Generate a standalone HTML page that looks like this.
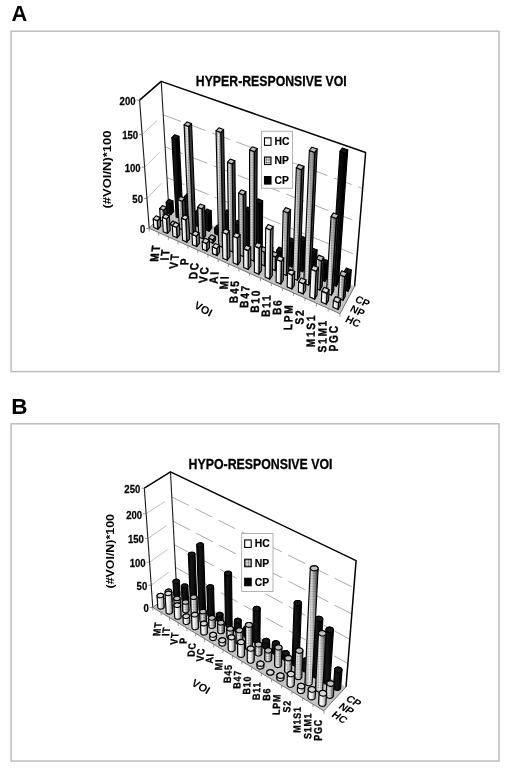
<!DOCTYPE html><html><head><meta charset="utf-8"><style>
*{margin:0;padding:0}
html,body{width:508px;height:771px;background:#fff;overflow:hidden}
svg{position:absolute;left:0;top:0}
text{font-family:"Liberation Sans",Arial,sans-serif}
.gl{stroke:#b8b8b8;stroke-width:0.9}
.gd{stroke:#a0a0a0;stroke-width:0.9;stroke-dasharray:19 7}
.ax{fill:none;stroke:#000;stroke-width:1.5;stroke-linejoin:round}
.av{fill:none;stroke:#1a1a1a;stroke-width:1.1}
.fx{fill:none;stroke:#555;stroke-width:0.8}
.tk{stroke:#666;stroke-width:0.7}
.yl{font-size:11px;font-weight:bold;text-anchor:end;stroke:#000;stroke-width:0.25px}
.cl{font-size:12px;font-weight:bold;text-anchor:end}
.sl{font-size:10px;font-weight:bold;text-anchor:middle;dominant-baseline:central}
.lg{font-size:11px;font-weight:bold;stroke:#000;stroke-width:0.2px}
.tt{font-size:15px;font-weight:bold;stroke:#000;stroke-width:0.3px}
.hc .f{fill:url(#ghc)}.hc .r{fill:#7a7a7a}.hc .t{fill:#d8d8d8}
.np .f{fill:url(#gnp)}.np .o{fill:url(#npat);stroke:none!important}.np .r{fill:#3a3a3a}.np .t{fill:#c0c0c0}
.cp .f{fill:url(#gcp)}.cp .r{fill:#000}.cp .t{fill:#1a1a1a}
.hc.c .f{fill:url(#ghcC)}.np.c .f{fill:url(#gnpC)}.hc.c .t{fill:#d8d8d8}.np.c .t{fill:#c0c0c0}
.hc polygon,.np polygon,.cp polygon{stroke:#000;stroke-width:1.15;stroke-linejoin:round}
</style></head><body><svg width="508" height="771" viewBox="0 0 508 771"><defs>
<linearGradient id="ghc" x1="0" y1="0" x2="1" y2="0"><stop offset="0" stop-color="#e4e4e4"/><stop offset="0.3" stop-color="#fff"/><stop offset="0.6" stop-color="#e8e8e8"/><stop offset="1" stop-color="#a4a4a4"/></linearGradient>
<linearGradient id="gnp" x1="0" y1="0" x2="1" y2="0"><stop offset="0" stop-color="#909090"/><stop offset="0.3" stop-color="#f2f2f2"/><stop offset="0.6" stop-color="#b8b8b8"/><stop offset="1" stop-color="#707070"/></linearGradient>
<linearGradient id="gcp" x1="0" y1="0" x2="1" y2="0"><stop offset="0" stop-color="#000"/><stop offset="0.35" stop-color="#161616"/><stop offset="1" stop-color="#000"/></linearGradient>
<pattern id="npat" patternUnits="userSpaceOnUse" width="2.6" height="2.6"><circle cx="1.3" cy="1.3" r="0.8" fill="#333" fill-opacity="0.42"/></pattern>
<pattern id="lpat" patternUnits="userSpaceOnUse" width="2.6" height="2.6"><rect width="2.6" height="2.6" fill="#ddd"/><circle cx="1.3" cy="1.3" r="0.8" fill="#555"/></pattern>
<linearGradient id="ghcC" x1="0" y1="0" x2="1" y2="0"><stop offset="0" stop-color="#8a8a8a"/><stop offset="0.15" stop-color="#e6e6e6"/><stop offset="0.35" stop-color="#fff"/><stop offset="0.62" stop-color="#d2d2d2"/><stop offset="0.85" stop-color="#9a9a9a"/><stop offset="1" stop-color="#6a6a6a"/></linearGradient>
<linearGradient id="gnpC" x1="0" y1="0" x2="1" y2="0"><stop offset="0" stop-color="#383838"/><stop offset="0.12" stop-color="#b0b0b0"/><stop offset="0.3" stop-color="#f8f8f8"/><stop offset="0.5" stop-color="#d8d8d8"/><stop offset="0.7" stop-color="#a0a0a0"/><stop offset="0.88" stop-color="#5a5a5a"/><stop offset="1" stop-color="#2a2a2a"/></linearGradient>
</defs>
<text transform="translate(11.6 21.2) scale(0.97 1)" style="font-size:22.5px;font-weight:bold">A</text>
<text transform="translate(11.3 413.6)" style="font-size:22.5px;font-weight:bold">B</text>
<rect x="11.1" y="31.2" width="487.9" height="340.4" fill="none" stroke="#bcbcbc" stroke-width="1.5"/>
<rect x="11.1" y="423.8" width="487.9" height="337.2" fill="none" stroke="#bcbcbc" stroke-width="1.5"/>
<polygon points="149.22,228.35 139.57,100.10 161.21,81.34 168.69,206.83" fill="#fff" stroke="none"/>
<polygon points="168.69,206.83 161.21,81.34 365.62,152.56 354.57,286.40" fill="#fff" stroke="none"/>
<polygon points="149.22,228.35 340.00,313.75 354.57,286.40 168.69,206.83" fill="#c4c4c4" stroke="none"/>
<line x1="146.97" y1="198.44" x2="161.49" y2="183.22" class="gl"/>
<line x1="166.95" y1="177.50" x2="357.13" y2="255.38" class="gd"/>
<line x1="144.62" y1="167.17" x2="159.53" y2="152.41" class="gl"/>
<line x1="165.12" y1="146.87" x2="359.82" y2="222.82" class="gd"/>
<line x1="142.16" y1="134.42" x2="157.47" y2="120.18" class="gl"/>
<line x1="163.21" y1="114.85" x2="362.65" y2="188.59" class="gd"/>
<polyline points="139.57,100.10 161.21,81.34 365.62,152.56 354.57,286.40" class="ax"/>
<polyline points="161.21,81.34 168.69,206.83" class="av"/>
<polyline points="139.57,100.10 149.22,228.35" class="av"/>
<polyline points="168.69,206.83 149.22,228.35 340.00,313.75 354.57,286.40" class="fx"/>
<line x1="146.22" y1="228.35" x2="149.22" y2="228.35" class="tk"/>
<text x="0" y="0" class="yl" transform="translate(145.22 233.35) scale(0.87 1) translate(0 0)">0</text>
<line x1="143.97" y1="198.44" x2="146.97" y2="198.44" class="tk"/>
<text x="0" y="0" class="yl" transform="translate(142.97 203.44) scale(0.87 1) translate(0 0)">50</text>
<line x1="141.62" y1="167.17" x2="144.62" y2="167.17" class="tk"/>
<text x="0" y="0" class="yl" transform="translate(140.62 172.17) scale(0.87 1) translate(0 0)">100</text>
<line x1="139.16" y1="134.42" x2="142.16" y2="134.42" class="tk"/>
<text x="0" y="0" class="yl" transform="translate(138.16 139.42) scale(0.87 1) translate(0 0)">150</text>
<line x1="136.57" y1="100.10" x2="139.57" y2="100.10" class="tk"/>
<text x="0" y="0" class="yl" transform="translate(135.57 105.10) scale(0.87 1) translate(0 0)">200</text>
<line x1="149.22" y1="228.35" x2="149.22" y2="231.35" class="tk"/>
<line x1="158.70" y1="232.59" x2="158.70" y2="235.59" class="tk"/>
<line x1="168.29" y1="236.89" x2="168.29" y2="239.89" class="tk"/>
<line x1="178.01" y1="241.24" x2="178.01" y2="244.24" class="tk"/>
<line x1="187.85" y1="245.64" x2="187.85" y2="248.64" class="tk"/>
<line x1="197.82" y1="250.10" x2="197.82" y2="253.10" class="tk"/>
<line x1="207.91" y1="254.62" x2="207.91" y2="257.62" class="tk"/>
<line x1="218.14" y1="259.20" x2="218.14" y2="262.20" class="tk"/>
<line x1="228.49" y1="263.84" x2="228.49" y2="266.84" class="tk"/>
<line x1="238.99" y1="268.53" x2="238.99" y2="271.53" class="tk"/>
<line x1="249.62" y1="273.29" x2="249.62" y2="276.29" class="tk"/>
<line x1="260.39" y1="278.12" x2="260.39" y2="281.12" class="tk"/>
<line x1="271.31" y1="283.00" x2="271.31" y2="286.00" class="tk"/>
<line x1="282.37" y1="287.96" x2="282.37" y2="290.96" class="tk"/>
<line x1="293.59" y1="292.98" x2="293.59" y2="295.98" class="tk"/>
<line x1="304.95" y1="298.06" x2="304.95" y2="301.06" class="tk"/>
<line x1="316.47" y1="303.22" x2="316.47" y2="306.22" class="tk"/>
<line x1="328.16" y1="308.45" x2="328.16" y2="311.45" class="tk"/>
<line x1="340.00" y1="313.75" x2="340.00" y2="316.75" class="tk"/>
<g class="cp"><polygon class="r" points="170.83,214.71 173.53,211.67 172.93,200.92 170.20,203.93"/><polygon class="f" points="166.82,212.97 170.83,214.71 170.20,203.93 166.16,202.21"/><polygon class="t" points="166.16,202.21 170.20,203.93 172.93,200.92 168.90,199.21"/></g>
<g class="cp"><polygon class="r" points="180.23,218.77 182.90,215.69 178.98,136.33 176.12,139.17"/><polygon class="f" points="176.17,217.02 180.23,218.77 176.12,139.17 171.84,137.54"/><polygon class="t" points="171.84,137.54 176.12,139.17 178.98,136.33 174.71,134.71"/></g>
<g class="cp"><polygon class="r" points="189.74,222.89 192.39,219.77 191.35,195.26 188.65,198.31"/><polygon class="f" points="185.64,221.11 189.74,222.89 188.65,198.31 184.47,196.57"/><polygon class="t" points="184.47,196.57 188.65,198.31 191.35,195.26 187.18,193.53"/></g>
<g class="cp"><polygon class="r" points="199.38,227.06 201.99,223.90 201.54,211.27 198.90,214.40"/><polygon class="f" points="195.22,225.26 199.38,227.06 198.90,214.40 194.71,212.61"/><polygon class="t" points="194.71,212.61 198.90,214.40 201.54,211.27 197.36,209.51"/></g>
<g class="cp"><polygon class="r" points="209.13,231.27 211.71,228.08 211.22,210.76 208.60,213.91"/><polygon class="f" points="204.92,229.45 209.13,231.27 208.60,213.91 204.34,212.11"/><polygon class="t" points="204.34,212.11 208.60,213.91 211.22,210.76 206.97,208.98"/></g>
<g class="cp"><polygon class="r" points="219.00,235.55 221.55,232.31 221.44,226.84 218.88,230.07"/><polygon class="f" points="214.74,233.70 219.00,235.55 218.88,230.07 214.60,228.23"/><polygon class="t" points="214.60,228.23 218.88,230.07 221.44,226.84 217.17,225.02"/></g>
<g class="cp"><polygon class="r" points="229.00,239.87 231.51,236.59 231.18,211.71 228.62,214.92"/><polygon class="f" points="224.69,238.00 229.00,239.87 228.62,214.92 224.22,213.09"/><polygon class="t" points="224.22,213.09 228.62,214.92 231.18,211.71 226.80,209.89"/></g>
<g class="cp"><polygon class="r" points="239.13,244.25 241.60,240.93 241.49,222.11 238.98,225.39"/><polygon class="f" points="234.76,242.36 239.13,244.25 238.98,225.39 234.55,223.52"/><polygon class="t" points="234.55,223.52 238.98,225.39 241.49,222.11 237.08,220.27"/></g>
<g class="cp"><polygon class="r" points="249.38,248.69 251.82,245.32 251.89,208.84 249.38,212.11"/><polygon class="f" points="244.96,246.77 249.38,248.69 249.38,212.11 244.83,210.24"/><polygon class="t" points="244.83,210.24 249.38,212.11 251.89,208.84 247.36,206.99"/></g>
<g class="cp"><polygon class="r" points="259.77,253.18 262.17,249.76 262.64,200.73 260.16,204.01"/><polygon class="f" points="255.28,251.24 259.77,253.18 260.16,204.01 255.50,202.14"/><polygon class="t" points="255.50,202.14 260.16,204.01 262.64,200.73 258.01,198.88"/></g>
<g class="cp"><polygon class="r" points="270.28,257.73 272.65,254.27 272.77,247.40 270.39,250.84"/><polygon class="f" points="265.74,255.76 270.28,257.73 270.39,250.84 265.83,248.89"/><polygon class="t" points="265.83,248.89 270.39,250.84 272.77,247.40 268.22,245.47"/></g>
<g class="cp"><polygon class="r" points="280.94,262.34 283.26,258.83 283.52,248.93 281.18,252.41"/><polygon class="f" points="276.34,260.35 280.94,262.34 281.18,252.41 276.55,250.43"/><polygon class="t" points="276.55,250.43 281.18,252.41 283.52,248.93 278.90,246.97"/></g>
<g class="cp"><polygon class="r" points="291.73,267.01 294.01,263.45 294.83,239.66 292.51,243.15"/><polygon class="f" points="287.07,264.99 291.73,267.01 292.51,243.15 287.77,241.17"/><polygon class="t" points="287.77,241.17 292.51,243.15 294.83,239.66 290.10,237.70"/></g>
<g class="cp"><polygon class="r" points="302.67,271.74 304.90,268.13 306.20,237.96 303.92,241.48"/><polygon class="f" points="297.95,269.69 302.67,271.74 303.92,241.48 299.09,239.48"/><polygon class="t" points="299.09,239.48 303.92,241.48 306.20,237.96 301.39,235.98"/></g>
<g class="cp"><polygon class="r" points="313.75,276.53 315.94,272.88 317.12,250.06 314.90,253.66"/><polygon class="f" points="308.97,274.46 313.75,276.53 314.90,253.66 310.02,251.62"/><polygon class="t" points="310.02,251.62 314.90,253.66 317.12,250.06 312.27,248.05"/></g>
<g class="cp"><polygon class="r" points="324.98,281.39 327.12,277.68 328.14,260.89 325.97,264.55"/><polygon class="f" points="320.13,279.29 324.98,281.39 325.97,264.55 321.06,262.48"/><polygon class="t" points="321.06,262.48 325.97,264.55 328.14,260.89 323.25,258.84"/></g>
<g class="cp"><polygon class="r" points="336.35,286.31 338.45,282.56 347.70,149.85 345.44,153.20"/><polygon class="f" points="331.44,284.18 336.35,286.31 345.44,153.20 339.99,151.28"/><polygon class="t" points="339.99,151.28 345.44,153.20 347.70,149.85 342.27,147.95"/></g>
<g class="cp"><polygon class="r" points="347.89,291.30 349.94,287.49 351.31,270.04 349.24,273.80"/><polygon class="f" points="342.91,289.14 347.89,291.30 349.24,273.80 344.19,271.67"/><polygon class="t" points="344.19,271.67 349.24,273.80 351.31,270.04 346.29,267.93"/></g>
<g class="np"><polygon class="r" points="164.43,221.89 167.20,218.78 166.49,207.26 163.69,210.34"/><polygon class="f" points="160.39,220.12 164.43,221.89 163.69,210.34 159.62,208.58"/><polygon class="o" points="160.39,220.12 164.43,221.89 163.69,210.34 159.62,208.58"/><polygon class="t" points="159.62,208.58 163.69,210.34 166.49,207.26 162.43,205.52"/></g>
<g class="np"><polygon class="r" points="173.90,226.05 176.64,222.90 176.64,222.90 173.90,226.05"/><polygon class="f" points="169.81,224.26 173.90,226.05 173.90,226.05 169.81,224.26"/><polygon class="o" points="169.81,224.26 173.90,226.05 173.90,226.05 169.81,224.26"/><polygon class="t" points="169.81,224.26 173.90,226.05 176.64,222.90 172.56,221.12"/></g>
<g class="np"><polygon class="r" points="183.49,230.26 186.19,227.07 184.82,198.15 182.05,201.26"/><polygon class="f" points="179.35,228.44 183.49,230.26 182.05,201.26 177.83,199.49"/><polygon class="o" points="179.35,228.44 183.49,230.26 182.05,201.26 177.83,199.49"/><polygon class="t" points="177.83,199.49 182.05,201.26 184.82,198.15 180.61,196.39"/></g>
<g class="np"><polygon class="r" points="193.19,234.52 195.87,231.29 191.53,123.59 188.62,126.50"/><polygon class="f" points="189.00,232.68 193.19,234.52 188.62,126.50 184.10,124.82"/><polygon class="o" points="189.00,232.68 193.19,234.52 188.62,126.50 184.10,124.82"/><polygon class="t" points="184.10,124.82 188.62,126.50 191.53,123.59 187.03,121.93"/></g>
<g class="np"><polygon class="r" points="203.02,238.84 205.67,235.56 204.68,205.79 201.98,208.98"/><polygon class="f" points="198.78,236.98 203.02,238.84 201.98,208.98 197.64,207.16"/><polygon class="o" points="198.78,236.98 203.02,238.84 201.98,208.98 197.64,207.16"/><polygon class="t" points="197.64,207.16 201.98,208.98 204.68,205.79 200.36,203.99"/></g>
<g class="np"><polygon class="r" points="212.98,243.21 215.59,239.89 215.50,236.64 212.89,239.95"/><polygon class="f" points="208.68,241.32 212.98,243.21 212.89,239.95 208.58,238.07"/><polygon class="o" points="208.68,241.32 212.98,243.21 212.89,239.95 208.58,238.07"/><polygon class="t" points="208.58,238.07 212.89,239.95 215.50,236.64 211.21,234.78"/></g>
<g class="np"><polygon class="r" points="223.06,247.63 225.63,244.27 223.56,129.53 220.75,132.54"/><polygon class="f" points="218.71,245.72 223.06,247.63 220.75,132.54 216.03,130.80"/><polygon class="o" points="218.71,245.72 223.06,247.63 220.75,132.54 216.03,130.80"/><polygon class="t" points="216.03,130.80 220.75,132.54 223.56,129.53 218.85,127.81"/></g>
<g class="np"><polygon class="r" points="233.27,252.12 235.80,248.71 234.89,160.86 232.18,164.00"/><polygon class="f" points="228.86,250.18 233.27,252.12 232.18,164.00 227.48,162.20"/><polygon class="o" points="228.86,250.18 233.27,252.12 232.18,164.00 227.48,162.20"/><polygon class="t" points="227.48,162.20 232.18,164.00 234.89,160.86 230.21,159.07"/></g>
<g class="np"><polygon class="r" points="243.61,256.66 246.11,253.21 245.95,191.68 243.34,194.96"/><polygon class="f" points="239.15,254.70 243.61,256.66 243.34,194.96 238.66,193.09"/><polygon class="o" points="239.15,254.70 243.61,256.66 243.34,194.96 238.66,193.09"/><polygon class="t" points="238.66,193.09 243.34,194.96 245.95,191.68 241.30,189.83"/></g>
<g class="np"><polygon class="r" points="254.08,261.26 256.54,257.76 257.14,148.55 254.48,151.72"/><polygon class="f" points="249.56,259.27 254.08,261.26 254.48,151.72 249.58,149.90"/><polygon class="o" points="249.56,259.27 254.08,261.26 254.48,151.72 249.58,149.90"/><polygon class="t" points="249.58,149.90 254.48,151.72 257.14,148.55 252.26,146.75"/></g>
<g class="np"><polygon class="r" points="264.69,265.91 267.11,262.37 267.30,248.78 264.86,252.29"/><polygon class="f" points="260.11,263.90 264.69,265.91 264.86,252.29 260.23,250.30"/><polygon class="o" points="260.11,263.90 264.69,265.91 264.86,252.29 260.23,250.30"/><polygon class="t" points="260.23,250.30 264.86,252.29 267.30,248.78 262.69,246.81"/></g>
<g class="np"><polygon class="r" points="275.45,270.63 277.82,267.04 278.12,253.41 275.72,256.97"/><polygon class="f" points="270.81,268.60 275.45,270.63 275.72,256.97 271.03,254.95"/><polygon class="o" points="270.81,268.60 275.45,270.63 275.72,256.97 271.03,254.95"/><polygon class="t" points="271.03,254.95 275.72,256.97 278.12,253.41 273.45,251.41"/></g>
<g class="np"><polygon class="r" points="286.34,275.42 288.67,271.77 290.57,209.59 288.13,213.05"/><polygon class="f" points="281.64,273.35 286.34,275.42 288.13,213.05 283.20,211.08"/><polygon class="o" points="281.64,273.35 286.34,275.42 288.13,213.05 283.20,211.08"/><polygon class="t" points="283.20,211.08 288.13,213.05 290.57,209.59 285.66,207.63"/></g>
<g class="np"><polygon class="r" points="297.38,280.26 299.67,276.57 303.98,166.34 301.52,169.71"/><polygon class="f" points="292.61,278.17 297.38,280.26 301.52,169.71 296.33,167.78"/><polygon class="o" points="292.61,278.17 297.38,280.26 301.52,169.71 296.33,167.78"/><polygon class="t" points="296.33,167.78 301.52,169.71 303.98,166.34 298.82,164.44"/></g>
<g class="np"><polygon class="r" points="308.56,285.17 310.81,281.43 317.16,149.08 314.72,152.42"/><polygon class="f" points="303.73,283.05 308.56,285.17 314.72,152.42 309.37,150.50"/><polygon class="o" points="303.73,283.05 308.56,285.17 314.72,152.42 309.37,150.50"/><polygon class="t" points="309.37,150.50 314.72,152.42 317.16,149.08 311.84,147.19"/></g>
<g class="np"><polygon class="r" points="319.90,290.15 322.10,286.35 323.76,257.21 321.52,260.93"/><polygon class="f" points="315.00,288.00 319.90,290.15 321.52,260.93 316.51,258.82"/><polygon class="o" points="315.00,288.00 319.90,290.15 321.52,260.93 316.51,258.82"/><polygon class="t" points="316.51,258.82 321.52,260.93 323.76,257.21 318.77,255.12"/></g>
<g class="np"><polygon class="r" points="331.39,295.19 333.54,291.34 338.60,214.97 336.35,218.61"/><polygon class="f" points="326.43,293.02 331.39,295.19 336.35,218.61 331.07,216.53"/><polygon class="o" points="326.43,293.02 331.39,295.19 336.35,218.61 331.07,216.53"/><polygon class="t" points="331.07,216.53 336.35,218.61 338.60,214.97 333.35,212.92"/></g>
<g class="np"><polygon class="r" points="343.03,300.31 345.13,296.40 346.91,273.00 344.78,276.84"/><polygon class="f" points="338.00,298.10 343.03,300.31 344.78,276.84 339.65,274.66"/><polygon class="o" points="338.00,298.10 343.03,300.31 344.78,276.84 339.65,274.66"/><polygon class="t" points="339.65,274.66 344.78,276.84 346.91,273.00 341.80,270.84"/></g>
<g class="hc"><polygon class="r" points="157.88,229.25 160.71,226.06 160.15,217.61 157.29,220.77"/><polygon class="f" points="153.81,227.44 157.88,229.25 157.29,220.77 153.20,218.97"/><polygon class="t" points="153.20,218.97 157.29,220.77 160.15,217.61 156.07,215.82"/></g>
<g class="hc"><polygon class="r" points="167.42,233.50 170.22,230.28 169.37,215.90 166.53,219.08"/><polygon class="f" points="163.30,231.67 167.42,233.50 166.53,219.08 162.37,217.27"/><polygon class="t" points="162.37,217.27 166.53,219.08 169.37,215.90 165.22,214.10"/></g>
<g class="hc"><polygon class="r" points="177.08,237.81 179.85,234.54 179.31,224.19 176.51,227.42"/><polygon class="f" points="172.91,235.95 177.08,237.81 176.51,227.42 172.31,225.58"/><polygon class="t" points="172.31,225.58 176.51,227.42 179.31,224.19 175.12,222.36"/></g>
<g class="hc"><polygon class="r" points="186.86,242.17 189.60,238.86 188.60,216.70 185.81,219.95"/><polygon class="f" points="182.64,240.29 186.86,242.17 185.81,219.95 181.52,218.10"/><polygon class="t" points="181.52,218.10 185.81,219.95 188.60,216.70 184.33,214.87"/></g>
<g class="hc"><polygon class="r" points="196.77,246.58 199.48,243.23 199.09,232.87 196.36,236.20"/><polygon class="f" points="192.50,244.68 196.77,246.58 196.36,236.20 192.05,234.31"/><polygon class="t" points="192.05,234.31 196.36,236.20 199.09,232.87 194.79,231.00"/></g>
<g class="hc"><polygon class="r" points="206.81,251.06 209.48,247.66 209.25,240.15 206.56,243.53"/><polygon class="f" points="202.48,249.13 206.81,251.06 206.56,243.53 202.21,241.61"/><polygon class="t" points="202.21,241.61 206.56,243.53 209.25,240.15 204.91,238.25"/></g>
<g class="hc"><polygon class="r" points="216.97,255.59 219.61,252.14 219.45,245.33 216.80,248.76"/><polygon class="f" points="212.58,253.63 216.97,255.59 216.80,248.76 212.39,246.81"/><polygon class="t" points="212.39,246.81 216.80,248.76 219.45,245.33 215.06,243.41"/></g>
<g class="hc"><polygon class="r" points="227.27,260.18 229.86,256.69 229.48,230.86 226.82,234.28"/><polygon class="f" points="222.82,258.20 227.27,260.18 226.82,234.28 222.29,232.33"/><polygon class="t" points="222.29,232.33 226.82,234.28 229.48,230.86 224.96,228.93"/></g>
<g class="hc"><polygon class="r" points="237.69,264.82 240.26,261.29 240.07,234.57 237.45,238.04"/><polygon class="f" points="233.19,262.82 237.69,264.82 237.45,238.04 232.86,236.06"/><polygon class="t" points="232.86,236.06 237.45,238.04 240.07,234.57 235.49,232.62"/></g>
<g class="hc"><polygon class="r" points="248.26,269.53 250.78,265.95 250.80,247.10 248.24,250.63"/><polygon class="f" points="243.70,267.50 248.26,269.53 248.24,250.63 243.62,248.62"/><polygon class="t" points="243.62,248.62 248.24,250.63 250.80,247.10 246.19,245.11"/></g>
<g class="hc"><polygon class="r" points="258.97,274.30 261.45,270.67 261.69,244.54 259.16,248.11"/><polygon class="f" points="254.35,272.25 258.97,274.30 259.16,248.11 254.45,246.08"/><polygon class="t" points="254.45,246.08 259.16,248.11 261.69,244.54 256.99,242.54"/></g>
<g class="hc"><polygon class="r" points="269.81,279.14 272.25,275.46 273.12,226.45 270.60,230.00"/><polygon class="f" points="265.13,277.05 269.81,279.14 270.60,230.00 265.73,227.98"/><polygon class="t" points="265.73,227.98 270.60,230.00 273.12,226.45 268.28,224.45"/></g>
<g class="hc"><polygon class="r" points="280.81,284.04 283.20,280.30 283.79,257.91 281.36,261.59"/><polygon class="f" points="276.06,281.92 280.81,284.04 281.36,261.59 276.53,259.50"/><polygon class="t" points="276.53,259.50 281.36,261.59 283.79,257.91 278.98,255.85"/></g>
<g class="hc"><polygon class="r" points="291.95,289.01 294.30,285.22 294.78,271.43 292.41,275.18"/><polygon class="f" points="287.14,286.86 291.95,289.01 292.41,275.18 287.55,273.05"/><polygon class="t" points="287.55,273.05 292.41,275.18 294.78,271.43 289.94,269.32"/></g>
<g class="hc"><polygon class="r" points="303.24,294.04 305.54,290.20 305.99,280.09 303.67,283.90"/><polygon class="f" points="298.36,291.87 303.24,294.04 303.67,283.90 298.76,281.74"/><polygon class="t" points="298.76,281.74 303.67,283.90 305.99,280.09 301.10,277.95"/></g>
<g class="hc"><polygon class="r" points="314.68,299.14 316.94,295.25 318.42,267.52 316.12,271.34"/><polygon class="f" points="309.74,296.94 314.68,299.14 316.12,271.34 311.07,269.17"/><polygon class="t" points="311.07,269.17 316.12,271.34 318.42,267.52 313.39,265.37"/></g>
<g class="hc"><polygon class="r" points="326.29,304.31 328.50,300.36 329.18,289.45 326.96,293.37"/><polygon class="f" points="321.28,302.08 326.29,304.31 326.96,293.37 321.90,291.15"/><polygon class="t" points="321.90,291.15 326.96,293.37 329.18,289.45 324.15,287.25"/></g>
<g class="hc"><polygon class="r" points="338.05,309.55 340.21,305.55 340.70,298.83 338.53,302.82"/><polygon class="f" points="332.97,307.29 338.05,309.55 338.53,302.82 333.42,300.56"/><polygon class="t" points="333.42,300.56 338.53,302.82 340.70,298.83 335.61,296.60"/></g>
<text class="cl" style="font-size:12px;letter-spacing:2px;stroke:#000;stroke-width:0.35px" transform="translate(160.64 243.66) skewX(-8.00) rotate(-90) scale(0.85 1)" x="0" y="0">MT</text>
<text class="cl" style="font-size:12px;letter-spacing:2px;stroke:#000;stroke-width:0.35px" transform="translate(170.03 247.93) skewX(-7.53) rotate(-90) scale(0.85 1)" x="0" y="0">IT</text>
<text class="cl" style="font-size:12px;letter-spacing:2px;stroke:#000;stroke-width:0.35px" transform="translate(179.54 252.26) skewX(-7.06) rotate(-90) scale(0.85 1)" x="0" y="0">VT</text>
<text class="cl" style="font-size:12px;letter-spacing:2px;stroke:#000;stroke-width:0.35px" transform="translate(189.17 256.63) skewX(-6.59) rotate(-90) scale(0.85 1)" x="0" y="0">P</text>
<text class="cl" style="font-size:12px;letter-spacing:2px;stroke:#000;stroke-width:0.35px" transform="translate(198.93 261.07) skewX(-6.12) rotate(-90) scale(0.85 1)" x="0" y="0">DC</text>
<text class="cl" style="font-size:12px;letter-spacing:2px;stroke:#000;stroke-width:0.35px" transform="translate(208.81 265.56) skewX(-5.65) rotate(-90) scale(0.85 1)" x="0" y="0">VC</text>
<text class="cl" style="font-size:12px;letter-spacing:2px;stroke:#000;stroke-width:0.35px" transform="translate(218.82 270.10) skewX(-5.18) rotate(-90) scale(0.85 1)" x="0" y="0">AI</text>
<text class="cl" style="font-size:12px;letter-spacing:2px;stroke:#000;stroke-width:0.35px" transform="translate(228.97 274.71) skewX(-4.71) rotate(-90) scale(0.85 1)" x="0" y="0">MI</text>
<text class="cl" style="font-size:12px;letter-spacing:2px;stroke:#000;stroke-width:0.35px" transform="translate(239.25 279.38) skewX(-4.24) rotate(-90) scale(0.85 1)" x="0" y="0">B45</text>
<text class="cl" style="font-size:12px;letter-spacing:2px;stroke:#000;stroke-width:0.35px" transform="translate(249.66 284.11) skewX(-3.76) rotate(-90) scale(0.85 1)" x="0" y="0">B47</text>
<text class="cl" style="font-size:12px;letter-spacing:2px;stroke:#000;stroke-width:0.35px" transform="translate(260.22 288.90) skewX(-3.29) rotate(-90) scale(0.85 1)" x="0" y="0">B10</text>
<text class="cl" style="font-size:12px;letter-spacing:2px;stroke:#000;stroke-width:0.35px" transform="translate(270.91 293.75) skewX(-2.82) rotate(-90) scale(0.85 1)" x="0" y="0">B11</text>
<text class="cl" style="font-size:12px;letter-spacing:2px;stroke:#000;stroke-width:0.35px" transform="translate(281.76 298.67) skewX(-2.35) rotate(-90) scale(0.85 1)" x="0" y="0">B6</text>
<text class="cl" style="font-size:12px;letter-spacing:2px;stroke:#000;stroke-width:0.35px" transform="translate(292.75 303.66) skewX(-1.88) rotate(-90) scale(0.85 1)" x="0" y="0">LPM</text>
<text class="cl" style="font-size:12px;letter-spacing:2px;stroke:#000;stroke-width:0.35px" transform="translate(303.89 308.71) skewX(-1.41) rotate(-90) scale(0.85 1)" x="0" y="0">S2</text>
<text class="cl" style="font-size:12px;letter-spacing:2px;stroke:#000;stroke-width:0.35px" transform="translate(315.19 313.83) skewX(-0.94) rotate(-90) scale(0.85 1)" x="0" y="0">M1S1</text>
<text class="cl" style="font-size:12px;letter-spacing:2px;stroke:#000;stroke-width:0.35px" transform="translate(326.64 319.03) skewX(-0.47) rotate(-90) scale(0.85 1)" x="0" y="0">S1M1</text>
<text class="cl" style="font-size:12px;letter-spacing:2px;stroke:#000;stroke-width:0.35px" transform="translate(338.26 324.29) skewX(-0.00) rotate(-90) scale(0.85 1)" x="0" y="0">PGC</text>
<text class="sl" style="font-size:10.5px" transform="matrix(0.91 0.41 -0.47 0.88 353.00 321.50)" x="0" y="0">HC</text>
<text class="sl" style="font-size:10.5px" transform="matrix(0.91 0.41 -0.47 0.88 357.50 311.00)" x="0" y="0">NP</text>
<text class="sl" style="font-size:10.5px" transform="matrix(0.91 0.41 -0.47 0.88 362.50 301.50)" x="0" y="0">CP</text>
<rect x="261.50" y="131.20" width="31.00" height="57.00" fill="#fff" stroke="#a0a0a0" stroke-width="0.8"/>
<rect x="264.50" y="137.85" width="6.5" height="7.5" fill="#fff" stroke="#000" stroke-width="1.1"/>
<text class="lg" transform="translate(274.50 145.20) scale(0.94 1)">HC</text>
<rect x="264.50" y="157.05" width="6.5" height="7.5" fill="url(#lpat)" stroke="#000" stroke-width="1.1"/>
<text class="lg" transform="translate(274.50 164.40) scale(0.94 1)">NP</text>
<rect x="264.50" y="176.55" width="6.5" height="7.5" fill="#000" stroke="#000" stroke-width="1.1"/>
<text class="lg" transform="translate(274.50 183.90) scale(0.94 1)">CP</text>
<text class="tt" transform="translate(195.8 85.6) scale(0.82 1)">HYPER-RESPONSIVE VOI</text>
<text style="font-size:11.5px;font-weight:bold" transform="translate(111 208.5) rotate(-90) scale(1.133 1)">(#VOI/N)*100</text>
<text style="font-size:11px;font-weight:bold" transform="matrix(0.866 0.5 -0.45 0.89 193.5 307.5)">VOI</text>
<polygon points="152.79,607.47 144.32,488.19 170.49,471.84 176.63,589.29" fill="#fff" stroke="none"/>
<polygon points="176.63,589.29 170.49,471.84 356.09,560.57 346.01,686.89" fill="#fff" stroke="none"/>
<polygon points="152.79,607.47 323.90,710.84 346.01,686.89 176.63,589.29" fill="#c4c4c4" stroke="none"/>
<line x1="151.21" y1="585.22" x2="168.82" y2="572.25" class="gl"/>
<line x1="175.49" y1="567.34" x2="347.88" y2="663.52" class="gd"/>
<line x1="149.58" y1="562.21" x2="167.51" y2="549.48" class="gl"/>
<line x1="174.30" y1="544.66" x2="349.81" y2="639.26" class="gd"/>
<line x1="147.88" y1="538.39" x2="166.16" y2="525.92" class="gl"/>
<line x1="173.07" y1="521.21" x2="351.83" y2="614.06" class="gd"/>
<line x1="146.13" y1="513.73" x2="164.76" y2="501.55" class="gl"/>
<line x1="171.80" y1="496.95" x2="353.92" y2="587.85" class="gd"/>
<polyline points="144.32,488.19 170.49,471.84 356.09,560.57 346.01,686.89" class="ax"/>
<polyline points="170.49,471.84 176.63,589.29" class="av"/>
<polyline points="144.32,488.19 152.79,607.47" class="av"/>
<polyline points="176.63,589.29 152.79,607.47 323.90,710.84 346.01,686.89" class="fx"/>
<line x1="149.79" y1="607.47" x2="152.79" y2="607.47" class="tk"/>
<text x="0" y="0" class="yl" transform="translate(148.79 612.47) scale(0.87 1) translate(0 0)">0</text>
<line x1="148.21" y1="585.22" x2="151.21" y2="585.22" class="tk"/>
<text x="0" y="0" class="yl" transform="translate(147.21 590.22) scale(0.87 1) translate(0 0)">50</text>
<line x1="146.58" y1="562.21" x2="149.58" y2="562.21" class="tk"/>
<text x="0" y="0" class="yl" transform="translate(145.58 567.21) scale(0.87 1) translate(0 0)">100</text>
<line x1="144.88" y1="538.39" x2="147.88" y2="538.39" class="tk"/>
<text x="0" y="0" class="yl" transform="translate(143.88 543.39) scale(0.87 1) translate(0 0)">150</text>
<line x1="143.13" y1="513.73" x2="146.13" y2="513.73" class="tk"/>
<text x="0" y="0" class="yl" transform="translate(142.13 518.73) scale(0.87 1) translate(0 0)">200</text>
<line x1="141.32" y1="488.19" x2="144.32" y2="488.19" class="tk"/>
<text x="0" y="0" class="yl" transform="translate(140.32 493.19) scale(0.87 1) translate(0 0)">250</text>
<line x1="152.79" y1="607.47" x2="152.79" y2="610.47" class="tk"/>
<line x1="161.12" y1="612.51" x2="161.12" y2="615.51" class="tk"/>
<line x1="169.57" y1="617.61" x2="169.57" y2="620.61" class="tk"/>
<line x1="178.15" y1="622.79" x2="178.15" y2="625.79" class="tk"/>
<line x1="186.85" y1="628.05" x2="186.85" y2="631.05" class="tk"/>
<line x1="195.68" y1="633.39" x2="195.68" y2="636.39" class="tk"/>
<line x1="204.65" y1="638.80" x2="204.65" y2="641.80" class="tk"/>
<line x1="213.76" y1="644.30" x2="213.76" y2="647.30" class="tk"/>
<line x1="223.00" y1="649.89" x2="223.00" y2="652.89" class="tk"/>
<line x1="232.39" y1="655.56" x2="232.39" y2="658.56" class="tk"/>
<line x1="241.92" y1="661.32" x2="241.92" y2="664.32" class="tk"/>
<line x1="251.60" y1="667.17" x2="251.60" y2="670.17" class="tk"/>
<line x1="261.44" y1="673.11" x2="261.44" y2="676.11" class="tk"/>
<line x1="271.43" y1="679.15" x2="271.43" y2="682.15" class="tk"/>
<line x1="281.59" y1="685.28" x2="281.59" y2="688.28" class="tk"/>
<line x1="291.91" y1="691.51" x2="291.91" y2="694.51" class="tk"/>
<line x1="302.40" y1="697.85" x2="302.40" y2="700.85" class="tk"/>
<line x1="313.06" y1="704.29" x2="313.06" y2="707.29" class="tk"/>
<line x1="323.90" y1="710.84" x2="323.90" y2="713.84" class="tk"/>
<g class="cp c"><polygon class="f" points="172.99,581.28 173.28,580.63 173.84,580.05 174.64,579.61 175.59,579.33 176.59,579.26 177.55,579.40 178.38,579.73 179.00,580.22 179.34,580.82 180.04,594.76 179.76,595.42 179.20,596.00 178.41,596.46 177.47,596.74 176.47,596.81 175.51,596.67 174.69,596.34 174.08,595.84 173.74,595.22 173.02,581.94"/><polygon class="t" points="178.53,582.72 179.09,582.14 179.37,581.48 179.34,580.82 179.00,580.22 178.38,579.72 177.55,579.40 176.59,579.26 175.59,579.33 174.64,579.61 173.85,580.05 173.28,580.63 172.99,581.28 173.02,581.94 173.35,582.55 173.97,583.05 174.80,583.38 175.77,583.52 176.78,583.44 177.73,583.17"/></g>
<g class="cp c"><polygon class="f" points="181.39,586.03 181.67,585.37 182.23,584.78 183.03,584.33 183.98,584.06 184.99,583.98 185.96,584.12 186.80,584.45 187.42,584.95 187.78,585.57 187.82,586.24 188.40,599.60 188.13,600.27 187.58,600.87 186.79,601.33 185.85,601.61 184.84,601.69 183.87,601.55 183.04,601.21 182.42,600.70 182.07,600.07 182.04,599.39"/><polygon class="t" points="186.98,587.49 187.54,586.90 187.82,586.24 187.78,585.57 187.42,584.95 186.80,584.45 185.96,584.12 184.99,583.98 183.98,584.06 183.03,584.33 182.23,584.79 181.67,585.37 181.39,586.03 181.42,586.70 181.77,587.32 182.40,587.83 183.24,588.16 184.22,588.30 185.23,588.23 186.18,587.95"/></g>
<g class="cp c"><polygon class="f" points="188.35,554.23 188.63,553.58 189.21,553.00 190.03,552.56 191.01,552.28 192.05,552.21 193.06,552.35 193.93,552.68 194.59,553.17 194.96,553.77 195.01,554.44 196.89,604.52 196.63,605.20 196.08,605.80 195.29,606.27 194.34,606.56 193.33,606.63 192.35,606.49 191.51,606.14 190.88,605.63 190.52,605.00 190.48,604.31"/><polygon class="t" points="194.16,555.67 194.73,555.09 195.01,554.44 194.96,553.77 194.58,553.17 193.93,552.68 193.06,552.35 192.05,552.21 191.01,552.29 190.03,552.56 189.21,553.00 188.63,553.58 188.35,554.23 188.39,554.89 188.76,555.50 189.41,556.00 190.29,556.33 191.30,556.47 192.35,556.40 193.34,556.12"/></g>
<g class="cp c"><polygon class="f" points="196.71,544.96 196.99,544.30 197.57,543.72 198.40,543.28 199.39,543.00 200.45,542.93 201.48,543.07 202.37,543.40 203.04,543.89 203.43,544.50 203.49,545.16 205.50,609.51 205.25,610.20 204.70,610.81 203.91,611.28 202.96,611.57 201.94,611.65 200.96,611.51 200.10,611.16 199.46,610.63 199.09,609.99 199.04,609.29"/><polygon class="t" points="202.64,546.40 203.22,545.82 203.49,545.16 203.43,544.50 203.04,543.89 202.37,543.40 201.48,543.07 200.45,542.93 199.39,543.00 198.40,543.28 197.57,543.72 196.99,544.30 196.71,544.96 196.77,545.62 197.15,546.23 197.82,546.73 198.71,547.06 199.75,547.20 200.82,547.13 201.81,546.85"/></g>
<g class="cp c"><polygon class="f" points="206.91,586.92 207.17,586.24 207.73,585.63 208.54,585.16 209.51,584.88 210.55,584.80 211.56,584.95 212.44,585.29 213.10,585.81 213.49,586.44 213.56,587.14 214.24,614.57 213.99,615.27 213.44,615.89 212.66,616.37 211.70,616.66 210.68,616.74 209.68,616.60 208.82,616.24 208.16,615.71 207.79,615.06 207.73,614.35"/><polygon class="t" points="212.75,588.43 213.31,587.82 213.56,587.14 213.49,586.44 213.10,585.81 212.44,585.29 211.56,584.95 210.55,584.80 209.51,584.88 208.54,585.17 207.73,585.63 207.17,586.24 206.91,586.92 206.97,587.62 207.36,588.26 208.02,588.78 208.91,589.13 209.92,589.27 210.97,589.19 211.94,588.90"/></g>
<g class="cp c"><polygon class="f" points="216.43,614.52 216.68,613.82 217.22,613.19 218.01,612.71 218.97,612.41 220.00,612.33 221.00,612.48 221.88,612.84 222.54,613.37 222.94,614.02 223.02,614.74 223.11,619.70 222.86,620.41 222.32,621.04 221.53,621.53 220.58,621.83 219.55,621.91 218.54,621.76 217.66,621.40 217.00,620.86 216.61,620.20 216.54,619.48"/><polygon class="t" points="222.23,616.08 222.77,615.45 223.02,614.74 222.94,614.02 222.54,613.37 221.88,612.84 221.00,612.48 220.00,612.33 218.97,612.41 218.01,612.71 217.22,613.19 216.68,613.81 216.43,614.52 216.50,615.24 216.89,615.90 217.55,616.43 218.44,616.79 219.44,616.94 220.48,616.86 221.44,616.56"/></g>
<g class="cp c"><polygon class="f" points="224.65,573.38 224.90,572.69 225.46,572.08 226.28,571.61 227.27,571.32 228.35,571.24 229.39,571.38 230.31,571.73 231.01,572.25 231.43,572.90 231.53,573.60 232.10,624.91 231.87,625.63 231.33,626.27 230.54,626.77 229.58,627.07 228.55,627.15 227.53,627.00 226.64,626.64 225.97,626.09 225.57,625.42 225.49,624.69"/><polygon class="t" points="230.72,574.91 231.28,574.30 231.53,573.60 231.43,572.90 231.02,572.26 230.31,571.73 229.39,571.38 228.35,571.24 227.27,571.32 226.28,571.61 225.46,572.08 224.90,572.69 224.65,573.39 224.73,574.09 225.15,574.74 225.85,575.26 226.77,575.62 227.83,575.76 228.90,575.68 229.90,575.39"/></g>
<g class="cp c"><polygon class="f" points="234.48,620.58 234.71,619.85 235.25,619.21 236.05,618.72 237.01,618.41 238.06,618.33 239.08,618.48 239.98,618.85 240.68,619.39 241.09,620.07 241.19,620.80 241.24,630.20 241.01,630.93 240.47,631.58 239.69,632.09 238.72,632.39 237.68,632.48 236.66,632.32 235.76,631.95 235.07,631.40 234.66,630.72 234.57,629.97"/><polygon class="t" points="240.43,622.18 240.97,621.53 241.19,620.80 241.10,620.07 240.68,619.39 239.98,618.85 239.08,618.48 238.06,618.33 237.01,618.41 236.05,618.72 235.25,619.21 234.71,619.85 234.48,620.58 234.57,621.31 234.98,621.99 235.68,622.54 236.58,622.91 237.61,623.06 238.67,622.98 239.64,622.68"/></g>
<g class="cp c"><polygon class="f" points="243.76,627.94 243.99,627.21 244.53,626.55 245.32,626.05 246.28,625.74 247.34,625.66 248.37,625.81 249.28,626.18 249.99,626.74 250.41,627.42 250.53,628.17 250.50,635.57 250.28,636.31 249.76,636.97 248.97,637.48 248.00,637.80 246.95,637.88 245.92,637.72 245.01,637.35 244.31,636.78 243.88,636.09 243.78,635.34"/><polygon class="t" points="249.77,629.57 250.30,628.91 250.53,628.17 250.42,627.42 249.99,626.74 249.28,626.18 248.37,625.81 247.33,625.66 246.28,625.74 245.32,626.05 244.53,626.55 243.99,627.21 243.77,627.94 243.87,628.69 244.29,629.38 245.00,629.94 245.91,630.32 246.95,630.47 248.01,630.39 248.98,630.08"/></g>
<g class="cp c"><polygon class="f" points="253.14,640.78 253.30,608.70 253.52,607.97 254.06,607.32 254.86,606.81 255.85,606.50 256.93,606.42 257.99,606.57 258.93,606.95 259.67,607.50 260.12,608.18 260.24,608.93 259.91,641.02 259.70,641.77 259.18,642.44 258.39,642.96 257.42,643.28 256.37,643.36 255.32,643.21 254.40,642.82 253.69,642.25 253.25,641.55"/><polygon class="t" points="259.49,610.33 260.02,609.67 260.24,608.93 260.12,608.18 259.67,607.50 258.93,606.95 257.99,606.57 256.93,606.42 255.85,606.50 254.86,606.81 254.06,607.31 253.52,607.97 253.30,608.70 253.41,609.45 253.86,610.14 254.59,610.70 255.54,611.07 256.60,611.23 257.69,611.15 258.68,610.83"/></g>
<g class="cp c"><polygon class="f" points="262.64,646.32 262.71,640.73 262.92,639.97 263.44,639.29 264.23,638.77 265.20,638.46 266.26,638.37 267.31,638.53 268.25,638.91 268.98,639.49 269.43,640.19 269.57,640.96 269.47,646.55 269.26,647.32 268.75,648.00 267.96,648.52 266.99,648.85 265.92,648.93 264.87,648.77 263.94,648.38 263.21,647.80 262.76,647.09"/><polygon class="t" points="268.84,642.40 269.36,641.73 269.57,640.96 269.43,640.19 268.98,639.48 268.25,638.91 267.31,638.53 266.26,638.37 265.20,638.46 264.23,638.77 263.44,639.29 262.92,639.97 262.71,640.73 262.83,641.50 263.28,642.21 264.01,642.79 264.95,643.18 266.01,643.34 267.08,643.25 268.05,642.93"/></g>
<g class="cp c"><polygon class="f" points="272.28,651.93 272.46,643.14 272.66,642.37 273.18,641.68 273.97,641.16 274.95,640.83 276.02,640.75 277.08,640.91 278.03,641.30 278.78,641.88 279.25,642.59 279.39,643.38 279.17,652.17 278.97,652.95 278.46,653.64 277.68,654.17 276.70,654.50 275.63,654.59 274.57,654.43 273.62,654.03 272.88,653.44 272.42,652.72"/><polygon class="t" points="278.68,644.84 279.19,644.15 279.39,643.38 279.25,642.59 278.78,641.88 278.03,641.30 277.08,640.91 276.02,640.75 274.95,640.83 273.97,641.16 273.18,641.68 272.66,642.37 272.46,643.14 272.59,643.92 273.06,644.64 273.80,645.23 274.76,645.62 275.83,645.78 276.91,645.70 277.89,645.37"/></g>
<g class="cp c"><polygon class="f" points="282.08,657.63 282.20,653.01 282.40,652.22 282.91,651.53 283.70,650.99 284.67,650.66 285.75,650.58 286.82,650.74 287.78,651.13 288.54,651.73 289.02,652.46 289.17,653.25 289.02,657.88 288.83,658.67 288.32,659.37 287.54,659.91 286.56,660.24 285.49,660.33 284.41,660.17 283.45,659.77 282.70,659.17 282.22,658.43"/><polygon class="t" points="288.48,654.74 288.99,654.04 289.17,653.25 289.02,652.46 288.54,651.73 287.78,651.13 286.82,650.74 285.75,650.58 284.67,650.66 283.70,650.99 282.91,651.53 282.40,652.22 282.20,653.01 282.35,653.81 282.83,654.54 283.58,655.14 284.55,655.54 285.63,655.70 286.71,655.61 287.69,655.28"/></g>
<g class="cp c"><polygon class="f" points="292.02,663.42 294.19,602.89 294.38,602.12 294.90,601.44 295.72,600.92 296.74,600.60 297.87,600.51 299.00,600.67 300.02,601.06 300.83,601.64 301.34,602.35 301.52,603.13 299.02,663.67 298.85,664.47 298.35,665.19 297.56,665.74 296.58,666.08 295.50,666.17 294.41,666.00 293.44,665.59 292.67,664.98 292.18,664.24"/><polygon class="t" points="300.81,604.59 301.34,603.90 301.52,603.13 301.34,602.35 300.83,601.64 300.02,601.06 299.00,600.67 297.87,600.51 296.74,600.59 295.72,600.92 294.90,601.44 294.38,602.12 294.19,602.89 294.35,603.68 294.87,604.39 295.67,604.98 296.70,605.37 297.83,605.53 298.97,605.45 300.00,605.12"/></g>
<g class="cp c"><polygon class="f" points="302.13,669.30 302.52,660.47 302.69,659.66 303.20,658.95 303.98,658.39 304.97,658.06 306.06,657.97 307.16,658.13 308.15,658.54 308.94,659.15 309.44,659.90 309.62,660.72 309.19,669.56 309.02,670.37 308.52,671.10 307.75,671.66 306.76,672.00 305.67,672.09 304.57,671.92 303.58,671.51 302.80,670.89 302.30,670.13"/><polygon class="t" points="308.96,662.25 309.46,661.53 309.63,660.72 309.44,659.90 308.93,659.15 308.15,658.54 307.16,658.13 306.06,657.97 304.97,658.06 303.98,658.39 303.20,658.95 302.69,659.66 302.52,660.47 302.69,661.29 303.20,662.05 303.98,662.66 304.98,663.08 306.08,663.24 307.18,663.15 308.17,662.81"/></g>
<g class="cp c"><polygon class="f" points="312.39,675.28 315.35,618.82 315.51,618.02 316.03,617.31 316.84,616.77 317.86,616.43 319.01,616.35 320.15,616.51 321.20,616.91 322.03,617.51 322.58,618.25 322.79,619.06 319.51,675.54 319.36,676.37 318.87,677.10 318.09,677.67 317.10,678.02 316.00,678.11 314.89,677.94 313.89,677.52 313.10,676.89 312.58,676.12"/><polygon class="t" points="322.12,620.58 322.63,619.86 322.79,619.06 322.58,618.25 322.03,617.51 321.20,616.91 320.16,616.51 319.01,616.34 317.86,616.43 316.84,616.77 316.03,617.31 315.51,618.02 315.35,618.82 315.54,619.63 316.08,620.37 316.92,620.98 317.97,621.39 319.12,621.55 320.27,621.46 321.31,621.13"/></g>
<g class="cp c"><polygon class="f" points="322.82,681.35 325.97,629.67 326.13,628.86 326.63,628.14 327.44,627.58 328.46,627.24 329.61,627.15 330.77,627.32 331.82,627.73 332.67,628.34 333.23,629.10 333.45,629.92 330.00,681.61 329.86,682.45 329.37,683.20 328.60,683.78 327.61,684.13 326.50,684.23 325.38,684.05 324.36,683.63 323.55,682.99 323.02,682.21"/><polygon class="t" points="332.80,631.46 333.30,630.74 333.45,629.92 333.23,629.10 332.67,628.34 331.82,627.73 330.77,627.32 329.61,627.15 328.46,627.24 327.44,627.58 326.63,628.14 326.13,628.86 325.97,629.67 326.18,630.50 326.74,631.26 327.58,631.88 328.64,632.29 329.81,632.46 330.96,632.37 331.99,632.03"/></g>
<g class="cp c"><polygon class="f" points="333.42,687.52 334.67,669.70 334.81,668.85 335.30,668.11 336.08,667.53 337.08,667.18 338.21,667.08 339.35,667.26 340.38,667.68 341.23,668.32 341.79,669.10 342.01,669.96 340.66,687.79 340.53,688.64 340.05,689.40 339.27,689.99 338.28,690.35 337.16,690.45 336.04,690.27 335.01,689.83 334.18,689.18 333.63,688.39"/><polygon class="t" points="341.39,671.56 341.87,670.81 342.01,669.96 341.79,669.10 341.23,668.32 340.39,667.68 339.35,667.26 338.21,667.08 337.08,667.18 336.08,667.53 335.30,668.11 334.81,668.85 334.67,669.70 334.88,670.56 335.44,671.34 336.28,671.99 337.32,672.42 338.47,672.59 339.60,672.50 340.61,672.14"/></g>
<g class="np c"><polygon class="f" points="165.25,591.17 165.54,590.50 166.12,589.91 166.93,589.46 167.88,589.18 168.89,589.10 169.86,589.24 170.69,589.58 171.31,590.08 171.64,590.70 172.17,600.13 172.20,600.81 171.91,601.48 171.34,602.08 170.54,602.54 169.59,602.82 168.58,602.90 167.61,602.76 166.78,602.41 166.17,601.91 165.84,601.28 165.27,591.84"/><polygon class="o" points="165.25,591.17 165.54,590.50 166.12,589.91 166.93,589.46 167.88,589.18 168.89,589.10 169.86,589.24 170.69,589.58 171.31,590.08 171.64,590.70 172.17,600.13 172.20,600.81 171.91,601.48 171.34,602.08 170.54,602.54 169.59,602.82 168.58,602.90 167.61,602.76 166.78,602.41 166.17,601.91 165.84,601.28 165.27,591.84"/><polygon class="t" points="170.80,592.64 171.38,592.04 171.67,591.37 171.64,590.70 171.31,590.08 170.69,589.58 169.86,589.24 168.89,589.10 167.88,589.18 166.93,589.46 166.12,589.91 165.54,590.50 165.25,591.17 165.27,591.84 165.60,592.47 166.21,592.97 167.05,593.31 168.02,593.45 169.04,593.38 170.00,593.10"/></g>
<g class="np c"><polygon class="f" points="173.76,598.28 174.05,597.60 174.63,597.00 175.43,596.54 176.39,596.26 177.40,596.18 178.38,596.32 179.22,596.66 179.84,597.17 180.19,597.80 180.55,605.05 180.58,605.74 180.30,606.42 179.74,607.03 178.94,607.50 177.98,607.78 176.96,607.86 175.99,607.72 175.15,607.37 174.53,606.86 174.19,606.22 173.79,598.97"/><polygon class="o" points="173.76,598.28 174.05,597.60 174.63,597.00 175.43,596.54 176.39,596.26 177.40,596.18 178.38,596.32 179.22,596.66 179.84,597.17 180.19,597.80 180.55,605.05 180.58,605.74 180.30,606.42 179.74,607.03 178.94,607.50 177.98,607.78 176.96,607.86 175.99,607.72 175.15,607.37 174.53,606.86 174.19,606.22 173.79,598.97"/><polygon class="t" points="179.37,599.77 179.94,599.17 180.22,598.49 180.19,597.80 179.84,597.17 179.22,596.66 178.38,596.32 177.40,596.18 176.39,596.26 175.43,596.54 174.63,597.00 174.05,597.60 173.76,598.28 173.79,598.97 174.13,599.60 174.76,600.11 175.60,600.46 176.58,600.60 177.60,600.52 178.56,600.24"/></g>
<g class="np c"><polygon class="f" points="182.20,601.92 182.48,601.24 183.06,600.63 183.86,600.16 184.82,599.87 185.84,599.80 186.83,599.94 187.68,600.29 188.32,600.80 188.67,601.44 188.72,602.14 189.09,610.75 188.82,611.44 188.25,612.05 187.45,612.53 186.49,612.82 185.47,612.90 184.49,612.75 183.64,612.40 183.01,611.88 182.66,611.23 182.62,610.53"/><polygon class="o" points="182.20,601.92 182.48,601.24 183.06,600.63 183.86,600.16 184.82,599.87 185.84,599.80 186.83,599.94 187.68,600.29 188.32,600.80 188.67,601.44 188.72,602.14 189.09,610.75 188.82,611.44 188.25,612.05 187.45,612.53 186.49,612.82 185.47,612.90 184.49,612.75 183.64,612.40 183.01,611.88 182.66,611.23 182.62,610.53"/><polygon class="t" points="187.87,603.44 188.44,602.82 188.72,602.14 188.67,601.44 188.32,600.80 187.68,600.29 186.83,599.94 185.84,599.80 184.82,599.87 183.86,600.16 183.06,600.63 182.48,601.24 182.20,601.92 182.24,602.62 182.59,603.26 183.23,603.78 184.08,604.13 185.07,604.28 186.10,604.20 187.06,603.91"/></g>
<g class="np c"><polygon class="f" points="190.42,597.09 190.70,596.39 191.27,595.78 192.08,595.31 193.05,595.02 194.09,594.94 195.09,595.09 195.96,595.44 196.61,595.96 196.98,596.60 197.03,597.30 197.73,615.83 197.46,616.53 196.90,617.15 196.10,617.63 195.13,617.93 194.11,618.01 193.11,617.86 192.25,617.50 191.61,616.97 191.25,616.32 191.20,615.61"/><polygon class="o" points="190.42,597.09 190.70,596.39 191.27,595.78 192.08,595.31 193.05,595.02 194.09,594.94 195.09,595.09 195.96,595.44 196.61,595.96 196.98,596.60 197.03,597.30 197.73,615.83 197.46,616.53 196.90,617.15 196.10,617.63 195.13,617.93 194.11,618.01 193.11,617.86 192.25,617.50 191.61,616.97 191.25,616.32 191.20,615.61"/><polygon class="t" points="196.19,598.61 196.76,597.99 197.03,597.30 196.98,596.60 196.61,595.96 195.96,595.44 195.09,595.09 194.09,594.94 193.05,595.02 192.08,595.31 191.27,595.78 190.70,596.39 190.42,597.08 190.47,597.79 190.83,598.43 191.48,598.96 192.35,599.31 193.36,599.46 194.40,599.38 195.38,599.09"/></g>
<g class="np c"><polygon class="f" points="199.58,611.42 199.85,610.71 200.41,610.09 201.22,609.60 202.19,609.31 203.22,609.23 204.22,609.38 205.10,609.73 205.76,610.26 206.14,610.92 206.20,611.64 206.49,620.98 206.23,621.69 205.67,622.32 204.87,622.82 203.90,623.12 202.87,623.20 201.87,623.05 200.99,622.68 200.34,622.14 199.97,621.48 199.91,620.76"/><polygon class="o" points="199.58,611.42 199.85,610.71 200.41,610.09 201.22,609.60 202.19,609.31 203.22,609.23 204.22,609.38 205.10,609.73 205.76,610.26 206.14,610.92 206.20,611.64 206.49,620.98 206.23,621.69 205.67,622.32 204.87,622.82 203.90,623.12 202.87,623.20 201.87,623.05 200.99,622.68 200.34,622.14 199.97,621.48 199.91,620.76"/><polygon class="t" points="205.37,612.97 205.94,612.35 206.20,611.64 206.14,610.92 205.76,610.26 205.10,609.73 204.23,609.38 203.22,609.23 202.19,609.31 201.22,609.60 200.41,610.09 199.85,610.71 199.58,611.42 199.63,612.13 200.01,612.79 200.67,613.33 201.54,613.69 202.55,613.84 203.60,613.76 204.57,613.46"/></g>
<g class="np c"><polygon class="f" points="208.51,617.73 208.77,617.02 209.33,616.38 210.14,615.89 211.11,615.59 212.15,615.51 213.16,615.66 214.05,616.02 214.72,616.56 215.11,617.23 215.18,617.96 215.38,626.21 215.12,626.93 214.57,627.57 213.77,628.07 212.80,628.38 211.76,628.46 210.75,628.31 209.87,627.94 209.20,627.39 208.82,626.72 208.75,625.98"/><polygon class="o" points="208.51,617.73 208.77,617.02 209.33,616.38 210.14,615.89 211.11,615.59 212.15,615.51 213.16,615.66 214.05,616.02 214.72,616.56 215.11,617.23 215.18,617.96 215.38,626.21 215.12,626.93 214.57,627.57 213.77,628.07 212.80,628.38 211.76,628.46 210.75,628.31 209.87,627.94 209.20,627.39 208.82,626.72 208.75,625.98"/><polygon class="t" points="214.37,619.32 214.92,618.68 215.18,617.96 215.11,617.23 214.72,616.56 214.05,616.02 213.16,615.66 212.15,615.51 211.11,615.59 210.14,615.89 209.33,616.38 208.77,617.02 208.51,617.73 208.58,618.46 208.96,619.13 209.63,619.68 210.52,620.05 211.54,620.20 212.59,620.11 213.56,619.81"/></g>
<g class="np c"><polygon class="f" points="217.53,622.56 217.78,621.83 218.34,621.19 219.14,620.69 220.12,620.39 221.17,620.31 222.19,620.46 223.08,620.82 223.77,621.37 224.17,622.05 224.25,622.79 224.40,631.52 224.16,632.25 223.60,632.90 222.81,633.41 221.83,633.72 220.78,633.80 219.76,633.65 218.87,633.27 218.19,632.72 217.80,632.03 217.72,631.29"/><polygon class="o" points="217.53,622.56 217.78,621.83 218.34,621.19 219.14,620.69 220.12,620.39 221.17,620.31 222.19,620.46 223.08,620.82 223.77,621.37 224.17,622.05 224.25,622.79 224.40,631.52 224.16,632.25 223.60,632.90 222.81,633.41 221.83,633.72 220.78,633.80 219.76,633.65 218.87,633.27 218.19,632.72 217.80,632.03 217.72,631.29"/><polygon class="t" points="223.45,624.17 224.00,623.52 224.25,622.79 224.17,622.05 223.77,621.37 223.08,620.82 222.19,620.46 221.17,620.31 220.12,620.39 219.14,620.69 218.34,621.19 217.78,621.83 217.53,622.56 217.60,623.30 218.00,623.98 218.68,624.53 219.58,624.91 220.61,625.06 221.66,624.98 222.64,624.67"/></g>
<g class="np c"><polygon class="f" points="226.71,628.55 226.95,627.81 227.50,627.15 228.31,626.65 229.28,626.34 230.34,626.26 231.37,626.41 232.28,626.78 232.97,627.34 233.38,628.03 233.48,628.78 233.56,636.91 233.32,637.65 232.78,638.31 231.98,638.83 231.00,639.14 229.95,639.22 228.92,639.07 228.01,638.69 227.32,638.12 226.92,637.43 226.83,636.67"/><polygon class="o" points="226.71,628.55 226.95,627.81 227.50,627.15 228.31,626.65 229.28,626.34 230.34,626.26 231.37,626.41 232.28,626.78 232.97,627.34 233.38,628.03 233.48,628.78 233.56,636.91 233.32,637.65 232.78,638.31 231.98,638.83 231.00,639.14 229.95,639.22 228.92,639.07 228.01,638.69 227.32,638.12 226.92,637.43 226.83,636.67"/><polygon class="t" points="232.69,630.18 233.24,629.52 233.48,628.78 233.38,628.03 232.97,627.34 232.28,626.78 231.37,626.41 230.34,626.26 229.28,626.34 228.31,626.65 227.50,627.16 226.95,627.81 226.71,628.55 226.79,629.30 227.20,629.99 227.89,630.55 228.80,630.93 229.84,631.09 230.90,631.00 231.88,630.69"/></g>
<g class="np c"><polygon class="f" points="235.98,630.17 236.22,629.42 236.76,628.76 237.57,628.25 238.55,627.93 239.62,627.85 240.66,628.00 241.58,628.38 242.29,628.95 242.72,629.64 242.82,630.40 242.86,642.38 242.63,643.13 242.09,643.80 241.29,644.33 240.31,644.64 239.25,644.73 238.21,644.57 237.29,644.19 236.59,643.61 236.17,642.91 236.08,642.14"/><polygon class="o" points="235.98,630.17 236.22,629.42 236.76,628.76 237.57,628.25 238.55,627.93 239.62,627.85 240.66,628.00 241.58,628.38 242.29,628.95 242.72,629.64 242.82,630.40 242.86,642.38 242.63,643.13 242.09,643.80 241.29,644.33 240.31,644.64 239.25,644.73 238.21,644.57 237.29,644.19 236.59,643.61 236.17,642.91 236.08,642.14"/><polygon class="t" points="242.04,631.82 242.59,631.15 242.82,630.40 242.72,629.64 242.29,628.95 241.58,628.38 240.66,628.00 239.62,627.85 238.55,627.93 237.57,628.25 236.76,628.76 236.21,629.42 235.98,630.17 236.07,630.93 236.49,631.63 237.20,632.20 238.13,632.58 239.18,632.74 240.25,632.66 241.24,632.34"/></g>
<g class="np c"><polygon class="f" points="245.44,624.79 245.67,624.04 246.22,623.37 247.03,622.85 248.03,622.54 249.11,622.45 250.17,622.61 251.11,622.99 251.84,623.56 252.28,624.26 252.40,625.03 252.30,647.93 252.08,648.70 251.54,649.38 250.74,649.91 249.76,650.23 248.69,650.32 247.64,650.16 246.71,649.77 246.00,649.19 245.57,648.47 245.46,647.69"/><polygon class="o" points="245.44,624.79 245.67,624.04 246.22,623.37 247.03,622.85 248.03,622.54 249.11,622.45 250.17,622.61 251.11,622.99 251.84,623.56 252.28,624.26 252.40,625.03 252.30,647.93 252.08,648.70 251.54,649.38 250.74,649.91 249.76,650.23 248.69,650.32 247.64,650.16 246.71,649.77 246.00,649.19 245.57,648.47 245.46,647.69"/><polygon class="t" points="251.63,626.46 252.17,625.78 252.40,625.03 252.28,624.26 251.84,623.56 251.11,622.99 250.17,622.61 249.11,622.45 248.03,622.54 247.03,622.85 246.22,623.37 245.67,624.04 245.44,624.79 245.55,625.56 245.98,626.27 246.71,626.84 247.66,627.23 248.73,627.38 249.82,627.30 250.81,626.98"/></g>
<g class="np c"><polygon class="f" points="254.99,653.33 255.05,644.34 255.27,643.57 255.81,642.89 256.61,642.36 257.60,642.03 258.68,641.95 259.74,642.11 260.68,642.50 261.42,643.08 261.87,643.80 261.99,644.59 261.89,653.57 261.67,654.35 261.14,655.04 260.35,655.58 259.36,655.91 258.28,656.00 257.22,655.84 256.28,655.44 255.55,654.85 255.11,654.12"/><polygon class="o" points="254.99,653.33 255.05,644.34 255.27,643.57 255.81,642.89 256.61,642.36 257.60,642.03 258.68,641.95 259.74,642.11 260.68,642.50 261.42,643.08 261.87,643.80 261.99,644.59 261.89,653.57 261.67,654.35 261.14,655.04 260.35,655.58 259.36,655.91 258.28,656.00 257.22,655.84 256.28,655.44 255.55,654.85 255.11,654.12"/><polygon class="t" points="261.24,646.05 261.78,645.36 261.99,644.59 261.87,643.80 261.42,643.08 260.68,642.50 259.74,642.11 258.68,641.95 257.60,642.03 256.61,642.36 255.81,642.89 255.27,643.57 255.05,644.34 255.17,645.13 255.62,645.85 256.35,646.44 257.30,646.84 258.36,647.00 259.45,646.91 260.44,646.59"/></g>
<g class="np c"><polygon class="f" points="264.67,659.05 264.80,650.31 265.01,649.53 265.54,648.83 266.34,648.29 267.33,647.97 268.42,647.88 269.49,648.04 270.44,648.44 271.19,649.03 271.66,649.76 271.79,650.56 271.62,659.30 271.42,660.09 270.89,660.79 270.10,661.34 269.11,661.67 268.02,661.76 266.95,661.60 266.00,661.20 265.26,660.59 264.80,659.86"/><polygon class="o" points="264.67,659.05 264.80,650.31 265.01,649.53 265.54,648.83 266.34,648.29 267.33,647.97 268.42,647.88 269.49,648.04 270.44,648.44 271.19,649.03 271.66,649.76 271.79,650.56 271.62,659.30 271.42,660.09 270.89,660.79 270.10,661.34 269.11,661.67 268.02,661.76 266.95,661.60 266.00,661.20 265.26,660.59 264.80,659.86"/><polygon class="t" points="271.06,652.05 271.59,651.35 271.79,650.56 271.66,649.76 271.19,649.03 270.45,648.44 269.49,648.04 268.42,647.88 267.33,647.97 266.34,648.29 265.54,648.83 265.01,649.53 264.80,650.31 264.93,651.11 265.39,651.85 266.13,652.45 267.09,652.85 268.17,653.01 269.26,652.92 270.26,652.59"/></g>
<g class="np c"><polygon class="f" points="274.50,664.87 274.89,647.30 275.09,646.51 275.62,645.80 276.43,645.26 277.43,644.93 278.53,644.84 279.62,645.01 280.60,645.41 281.36,646.00 281.84,646.74 281.99,647.55 281.51,665.12 281.32,665.92 280.80,666.63 280.00,667.19 279.01,667.53 277.92,667.62 276.84,667.45 275.87,667.04 275.12,666.43 274.64,665.68"/><polygon class="o" points="274.50,664.87 274.89,647.30 275.09,646.51 275.62,645.80 276.43,645.26 277.43,644.93 278.53,644.84 279.62,645.01 280.60,645.41 281.36,646.00 281.84,646.74 281.99,647.55 281.51,665.12 281.32,665.92 280.80,666.63 280.00,667.19 279.01,667.53 277.92,667.62 276.84,667.45 275.87,667.04 275.12,666.43 274.64,665.68"/><polygon class="t" points="281.27,649.05 281.80,648.35 281.99,647.55 281.84,646.74 281.36,646.00 280.60,645.41 279.62,645.01 278.53,644.84 277.43,644.93 276.43,645.26 275.63,645.81 275.09,646.51 274.89,647.30 275.03,648.11 275.51,648.85 276.27,649.46 277.25,649.86 278.35,650.03 279.46,649.94 280.46,649.60"/></g>
<g class="np c"><polygon class="f" points="284.49,670.77 284.87,658.00 285.07,657.19 285.59,656.47 286.39,655.92 287.39,655.58 288.50,655.49 289.59,655.66 290.58,656.06 291.36,656.67 291.85,657.43 292.01,658.25 291.56,671.02 291.37,671.84 290.86,672.57 290.06,673.13 289.07,673.48 287.97,673.57 286.88,673.40 285.90,672.98 285.13,672.36 284.64,671.60"/><polygon class="o" points="284.49,670.77 284.87,658.00 285.07,657.19 285.59,656.47 286.39,655.92 287.39,655.58 288.50,655.49 289.59,655.66 290.58,656.06 291.36,656.67 291.85,657.43 292.01,658.25 291.56,671.02 291.37,671.84 290.86,672.57 290.06,673.13 289.07,673.48 287.97,673.57 286.88,673.40 285.90,672.98 285.13,672.36 284.64,671.60"/><polygon class="t" points="291.30,659.78 291.82,659.06 292.01,658.25 291.85,657.43 291.36,656.67 290.58,656.06 289.59,655.66 288.50,655.49 287.39,655.58 286.39,655.92 285.59,656.47 285.07,657.19 284.87,658.00 285.03,658.82 285.52,659.58 286.29,660.19 287.28,660.60 288.39,660.77 289.50,660.68 290.50,660.34"/></g>
<g class="np c"><polygon class="f" points="294.64,676.77 295.64,650.45 295.83,649.63 296.35,648.91 297.16,648.35 298.17,648.01 299.29,647.92 300.41,648.09 301.42,648.50 302.23,649.11 302.74,649.87 302.92,650.70 301.76,677.03 301.59,677.86 301.08,678.60 300.28,679.17 299.29,679.52 298.18,679.61 297.08,679.44 296.08,679.02 295.30,678.39 294.80,677.61"/><polygon class="o" points="294.64,676.77 295.64,650.45 295.83,649.63 296.35,648.91 297.16,648.35 298.17,648.01 299.29,647.92 300.41,648.09 301.42,648.50 302.23,649.11 302.74,649.87 302.92,650.70 301.76,677.03 301.59,677.86 301.08,678.60 300.28,679.17 299.29,679.52 298.18,679.61 297.08,679.44 296.08,679.02 295.30,678.39 294.80,677.61"/><polygon class="t" points="302.22,652.25 302.74,651.52 302.92,650.70 302.74,649.87 302.22,649.11 301.42,648.50 300.41,648.09 299.29,647.92 298.17,648.01 297.16,648.35 296.35,648.91 295.83,649.63 295.64,650.44 295.81,651.28 296.32,652.04 297.12,652.66 298.14,653.08 299.26,653.25 300.39,653.16 301.41,652.81"/></g>
<g class="np c"><polygon class="f" points="304.94,682.87 310.29,568.14 310.48,567.36 311.02,566.67 311.88,566.14 312.97,565.81 314.17,565.72 315.38,565.89 316.48,566.28 317.36,566.87 317.93,567.59 318.14,568.39 312.13,683.13 311.96,683.97 311.46,684.72 310.67,685.30 309.67,685.66 308.56,685.75 307.44,685.58 306.43,685.15 305.63,684.51 305.12,683.72"/><polygon class="o" points="304.94,682.87 310.29,568.14 310.48,567.36 311.02,566.67 311.88,566.14 312.97,565.81 314.17,565.72 315.38,565.89 316.48,566.28 317.36,566.87 317.93,567.59 318.14,568.39 312.13,683.13 311.96,683.97 311.46,684.72 310.67,685.30 309.67,685.66 308.56,685.75 307.44,685.58 306.43,685.15 305.63,684.51 305.12,683.72"/><polygon class="t" points="317.42,569.87 317.97,569.17 318.14,568.39 317.93,567.59 317.36,566.87 316.48,566.28 315.38,565.89 314.17,565.72 312.97,565.81 311.88,566.14 311.02,566.67 310.48,567.36 310.29,568.14 310.49,568.94 311.06,569.67 311.94,570.26 313.04,570.66 314.26,570.82 315.47,570.74 316.57,570.41"/></g>
<g class="np c"><polygon class="f" points="315.42,689.06 318.51,633.15 318.68,632.33 319.20,631.59 320.02,631.03 321.06,630.68 322.23,630.59 323.40,630.76 324.46,631.18 325.31,631.80 325.88,632.57 326.09,633.41 322.67,689.33 322.51,690.18 322.01,690.95 321.23,691.54 320.22,691.90 319.10,692.00 317.97,691.82 316.95,691.38 316.14,690.73 315.61,689.93"/><polygon class="o" points="315.42,689.06 318.51,633.15 318.68,632.33 319.20,631.59 320.02,631.03 321.06,630.68 322.23,630.59 323.40,630.76 324.46,631.18 325.31,631.80 325.88,632.57 326.09,633.41 322.67,689.33 322.51,690.18 322.01,690.95 321.23,691.54 320.22,691.90 319.10,692.00 317.97,691.82 316.95,691.38 316.14,690.73 315.61,689.93"/><polygon class="t" points="325.41,634.98 325.93,634.25 326.09,633.41 325.87,632.57 325.31,631.80 324.46,631.18 323.40,630.76 322.23,630.59 321.06,630.68 320.02,631.03 319.20,631.59 318.68,632.33 318.51,633.15 318.71,634.00 319.27,634.77 320.12,635.40 321.19,635.83 322.37,636.00 323.54,635.91 324.59,635.56"/></g>
<g class="np c"><polygon class="f" points="326.06,695.36 326.83,683.40 326.99,682.54 327.49,681.78 328.28,681.18 329.29,680.82 330.42,680.73 331.56,680.91 332.61,681.34 333.44,681.99 334.00,682.80 334.21,683.67 333.38,695.63 333.23,696.50 332.74,697.27 331.95,697.87 330.95,698.24 329.82,698.34 328.68,698.16 327.64,697.72 326.81,697.05 326.27,696.24"/><polygon class="o" points="326.06,695.36 326.83,683.40 326.99,682.54 327.49,681.78 328.28,681.18 329.29,680.82 330.42,680.73 331.56,680.91 332.61,681.34 333.44,681.99 334.00,682.80 334.21,683.67 333.38,695.63 333.23,696.50 332.74,697.27 331.95,697.87 330.95,698.24 329.82,698.34 328.68,698.16 327.64,697.72 326.81,697.05 326.27,696.24"/><polygon class="t" points="333.58,685.31 334.07,684.54 334.21,683.67 334.00,682.80 333.44,681.99 332.61,681.34 331.56,680.91 330.42,680.73 329.29,680.82 328.28,681.18 327.49,681.78 326.99,682.54 326.83,683.40 327.04,684.28 327.59,685.09 328.43,685.75 329.47,686.19 330.62,686.37 331.76,686.27 332.78,685.91"/></g>
<g class="hc c"><polygon class="f" points="157.03,595.50 157.34,594.83 157.93,594.23 158.75,593.76 159.72,593.48 160.74,593.41 161.72,593.55 162.55,593.89 163.16,594.40 163.50,595.03 164.20,606.27 164.22,606.97 163.92,607.65 163.34,608.26 162.52,608.73 161.56,609.02 160.54,609.10 159.57,608.95 158.73,608.60 158.12,608.09 157.80,607.45 157.04,596.19"/><polygon class="t" points="162.63,597.00 163.21,596.39 163.51,595.72 163.50,595.03 163.16,594.40 162.55,593.89 161.71,593.55 160.74,593.41 159.72,593.48 158.75,593.76 157.93,594.23 157.34,594.83 157.03,595.50 157.04,596.19 157.37,596.83 157.98,597.34 158.82,597.69 159.80,597.83 160.83,597.75 161.80,597.46"/></g>
<g class="hc c"><polygon class="f" points="165.01,593.30 165.31,592.62 165.91,592.01 166.73,591.54 167.71,591.26 168.74,591.18 169.73,591.33 170.58,591.67 171.21,592.19 171.56,592.82 172.59,611.29 172.62,611.99 172.33,612.68 171.75,613.30 170.94,613.78 169.97,614.07 168.94,614.15 167.96,614.00 167.12,613.65 166.50,613.13 166.16,612.48 165.03,594.00"/><polygon class="t" points="170.70,594.81 171.29,594.20 171.58,593.52 171.56,592.82 171.21,592.19 170.58,591.67 169.73,591.33 168.74,591.18 167.71,591.26 166.73,591.55 165.91,592.01 165.32,592.62 165.01,593.30 165.03,594.00 165.37,594.64 166.00,595.16 166.85,595.50 167.85,595.65 168.89,595.57 169.87,595.28"/></g>
<g class="hc c"><polygon class="f" points="173.97,605.09 174.27,604.39 174.85,603.78 175.67,603.30 176.65,603.01 177.68,602.93 178.68,603.08 179.54,603.43 180.17,603.95 180.53,604.60 181.12,616.37 181.15,617.09 180.87,617.79 180.29,618.42 179.47,618.90 178.50,619.20 177.47,619.28 176.48,619.13 175.63,618.77 175.00,618.24 174.65,617.58 174.00,605.80"/><polygon class="t" points="179.69,606.63 180.27,606.01 180.56,605.31 180.53,604.60 180.17,603.95 179.54,603.43 178.68,603.08 177.68,602.93 176.65,603.01 175.67,603.30 174.85,603.78 174.27,604.39 173.97,605.09 174.00,605.80 174.35,606.45 174.99,606.98 175.85,607.34 176.85,607.48 177.89,607.40 178.87,607.11"/></g>
<g class="hc c"><polygon class="f" points="182.93,616.04 183.22,615.33 183.80,614.70 184.62,614.22 185.59,613.92 186.63,613.84 187.62,613.99 188.49,614.35 189.13,614.88 189.50,615.54 189.54,616.26 189.80,622.26 189.53,622.98 188.95,623.61 188.14,624.10 187.16,624.40 186.13,624.49 185.12,624.34 184.26,623.97 183.62,623.43 183.26,622.76 183.22,622.04"/><polygon class="t" points="188.69,617.61 189.26,616.98 189.54,616.27 189.50,615.54 189.14,614.88 188.49,614.35 187.63,613.99 186.63,613.84 185.59,613.92 184.62,614.22 183.80,614.70 183.22,615.33 182.93,616.04 182.97,616.77 183.33,617.43 183.97,617.97 184.84,618.33 185.85,618.48 186.89,618.40 187.87,618.10"/></g>
<g class="hc c"><polygon class="f" points="191.42,614.52 191.70,613.80 192.28,613.17 193.10,612.68 194.08,612.38 195.13,612.30 196.15,612.45 197.02,612.81 197.68,613.35 198.06,614.02 198.12,614.75 198.59,627.51 198.32,628.24 197.75,628.88 196.93,629.38 195.96,629.69 194.91,629.77 193.90,629.62 193.03,629.25 192.37,628.70 192.00,628.02 191.96,627.28"/><polygon class="t" points="197.26,616.10 197.84,615.46 198.11,614.74 198.06,614.02 197.68,613.35 197.02,612.81 196.14,612.45 195.13,612.30 194.08,612.38 193.10,612.68 192.28,613.17 191.70,613.80 191.42,614.52 191.47,615.25 191.84,615.92 192.50,616.47 193.38,616.83 194.40,616.98 195.46,616.90 196.44,616.60"/></g>
<g class="hc c"><polygon class="f" points="200.49,623.42 200.76,622.69 201.34,622.04 202.16,621.54 203.14,621.24 204.19,621.16 205.21,621.31 206.10,621.68 206.77,622.23 207.16,622.91 207.22,623.65 207.50,632.84 207.24,633.58 206.67,634.23 205.86,634.74 204.88,635.05 203.82,635.13 202.81,634.98 201.92,634.60 201.25,634.04 200.88,633.36 200.82,632.61"/><polygon class="t" points="206.39,625.03 206.96,624.38 207.22,623.65 207.16,622.91 206.77,622.23 206.10,621.68 205.21,621.31 204.19,621.16 203.14,621.24 202.16,621.55 201.34,622.05 200.76,622.69 200.49,623.42 200.55,624.16 200.93,624.85 201.60,625.40 202.49,625.78 203.52,625.93 204.58,625.85 205.57,625.54"/></g>
<g class="hc c"><polygon class="f" points="209.72,634.66 209.98,633.91 210.55,633.25 211.36,632.74 212.35,632.43 213.40,632.35 214.43,632.50 215.32,632.88 216.00,633.44 216.40,634.13 216.47,634.89 216.55,638.25 216.29,639.00 215.73,639.66 214.92,640.17 213.94,640.49 212.88,640.57 211.85,640.42 210.95,640.04 210.27,639.47 209.88,638.77 209.81,638.01"/><polygon class="t" points="215.65,636.30 216.22,635.64 216.47,634.89 216.40,634.13 216.00,633.44 215.32,632.88 214.43,632.50 213.40,632.35 212.35,632.43 211.36,632.74 210.55,633.25 209.98,633.91 209.72,634.66 209.79,635.41 210.18,636.11 210.86,636.68 211.76,637.06 212.79,637.21 213.85,637.13 214.84,636.81"/></g>
<g class="hc c"><polygon class="f" points="218.88,640.13 219.13,639.38 219.69,638.71 220.51,638.19 221.49,637.88 222.56,637.79 223.59,637.95 224.50,638.33 225.19,638.90 225.60,639.60 225.68,640.37 225.74,643.74 225.49,644.50 224.93,645.17 224.12,645.70 223.13,646.01 222.06,646.10 221.03,645.94 220.12,645.56 219.43,644.98 219.03,644.27 218.95,643.50"/><polygon class="t" points="224.88,641.80 225.43,641.13 225.68,640.37 225.60,639.60 225.19,638.90 224.50,638.33 223.59,637.95 222.56,637.79 221.49,637.88 220.51,638.19 219.69,638.71 219.13,639.38 218.87,640.13 218.95,640.90 219.36,641.61 220.05,642.18 220.96,642.57 222.00,642.73 223.07,642.64 224.06,642.32"/></g>
<g class="hc c"><polygon class="f" points="228.05,637.23 228.30,636.47 228.86,635.79 229.68,635.27 230.68,634.95 231.75,634.87 232.80,635.03 233.73,635.41 234.44,635.99 234.86,636.70 234.96,637.47 235.07,649.31 234.83,650.08 234.27,650.77 233.46,651.30 232.47,651.63 231.40,651.71 230.35,651.55 229.43,651.16 228.72,650.58 228.31,649.86 228.22,649.07"/><polygon class="t" points="234.16,638.92 234.72,638.24 234.96,637.47 234.86,636.70 234.44,635.99 233.73,635.41 232.80,635.03 231.75,634.87 230.68,634.95 229.68,635.27 228.86,635.80 228.30,636.47 228.05,637.23 228.14,638.01 228.56,638.72 229.26,639.31 230.19,639.69 231.25,639.85 232.34,639.77 233.34,639.45"/></g>
<g class="hc c"><polygon class="f" points="237.55,641.93 237.79,641.16 238.34,640.47 239.16,639.94 240.16,639.62 241.25,639.53 242.31,639.69 243.25,640.08 243.97,640.67 244.41,641.39 244.52,642.17 244.54,654.98 244.31,655.76 243.76,656.45 242.95,656.99 241.95,657.32 240.87,657.41 239.81,657.25 238.88,656.85 238.16,656.26 237.74,655.53 237.64,654.73"/><polygon class="t" points="243.73,643.64 244.28,642.95 244.52,642.18 244.41,641.39 243.97,640.67 243.25,640.08 242.31,639.69 241.25,639.53 240.16,639.62 239.16,639.94 238.35,640.47 237.79,641.16 237.55,641.93 237.65,642.72 238.08,643.45 238.80,644.04 239.74,644.43 240.81,644.59 241.90,644.51 242.91,644.18"/></g>
<g class="hc c"><polygon class="f" points="247.20,660.48 247.21,648.51 247.44,647.73 247.99,647.03 248.81,646.49 249.81,646.16 250.90,646.07 251.97,646.24 252.93,646.63 253.66,647.23 254.11,647.96 254.23,648.76 254.16,660.73 253.94,661.52 253.39,662.23 252.58,662.77 251.58,663.11 250.50,663.20 249.43,663.03 248.48,662.63 247.75,662.03 247.31,661.28"/><polygon class="t" points="253.45,650.25 254.00,649.55 254.23,648.76 254.11,647.96 253.66,647.23 252.92,646.63 251.97,646.24 250.90,646.07 249.81,646.16 248.81,646.49 247.99,647.03 247.44,647.73 247.20,648.51 247.32,649.31 247.76,650.05 248.50,650.65 249.45,651.05 250.53,651.22 251.63,651.13 252.64,650.80"/></g>
<g class="hc c"><polygon class="f" points="256.92,666.31 256.94,663.59 257.16,662.78 257.70,662.07 258.51,661.52 259.51,661.18 260.60,661.09 261.68,661.26 262.63,661.66 263.38,662.27 263.84,663.02 263.97,663.84 263.93,666.57 263.72,667.37 263.18,668.09 262.37,668.65 261.37,668.99 260.27,669.08 259.19,668.91 258.23,668.50 257.49,667.89 257.04,667.13"/><polygon class="t" points="263.21,665.36 263.75,664.64 263.97,663.84 263.84,663.02 263.38,662.27 262.63,661.67 261.68,661.26 260.60,661.09 259.51,661.18 258.51,661.52 257.70,662.07 257.16,662.78 256.94,663.59 257.06,664.40 257.51,665.16 258.26,665.77 259.22,666.18 260.30,666.35 261.40,666.26 262.40,665.92"/></g>
<g class="hc c"><polygon class="f" points="266.78,672.24 267.00,671.42 267.53,670.70 268.34,670.14 269.34,669.80 270.44,669.71 271.52,669.88 272.49,670.29 273.24,670.91 273.72,671.67 273.86,672.50 273.65,673.32 273.12,674.05 272.31,674.61 271.30,674.96 270.20,675.05 269.11,674.88 268.14,674.46 267.38,673.84 266.92,673.08"/><polygon class="t" points="273.12,674.05 273.65,673.32 273.86,672.50 273.72,671.67 273.24,670.91 272.49,670.29 271.52,669.88 270.44,669.71 269.34,669.80 268.34,670.14 267.53,670.70 266.99,671.42 266.78,672.24 266.91,673.08 267.38,673.84 268.14,674.46 269.11,674.88 270.20,675.05 271.30,674.96 272.31,674.61"/></g>
<g class="hc c"><polygon class="f" points="276.81,678.27 276.87,675.52 277.08,674.69 277.61,673.96 278.42,673.39 279.42,673.04 280.53,672.95 281.63,673.12 282.61,673.54 283.38,674.16 283.87,674.93 284.02,675.78 283.94,678.52 283.75,679.36 283.22,680.10 282.41,680.67 281.40,681.03 280.29,681.12 279.19,680.95 278.20,680.52 277.43,679.89 276.95,679.11"/><polygon class="t" points="283.30,677.35 283.83,676.61 284.02,675.78 283.87,674.94 283.38,674.16 282.61,673.54 281.63,673.12 280.53,672.95 279.42,673.04 278.42,673.39 277.61,673.95 277.08,674.69 276.87,675.52 277.02,676.36 277.50,677.14 278.27,677.77 279.26,678.20 280.36,678.37 281.48,678.28 282.49,677.93"/></g>
<g class="hc c"><polygon class="f" points="286.99,684.39 287.33,673.90 287.53,673.06 288.06,672.32 288.87,671.74 289.88,671.39 291.00,671.30 292.12,671.47 293.12,671.89 293.91,672.53 294.42,673.31 294.59,674.16 294.19,684.65 294.00,685.50 293.48,686.25 292.67,686.83 291.66,687.19 290.54,687.29 289.43,687.11 288.43,686.68 287.65,686.04 287.15,685.25"/><polygon class="t" points="293.87,675.75 294.40,675.00 294.59,674.16 294.42,673.31 293.91,672.53 293.12,671.89 292.12,671.47 291.00,671.30 289.88,671.39 288.87,671.74 288.06,672.31 287.53,673.06 287.33,673.90 287.49,674.75 287.99,675.54 288.78,676.18 289.79,676.61 290.91,676.78 292.04,676.69 293.06,676.33"/></g>
<g class="hc c"><polygon class="f" points="297.34,690.61 297.53,685.99 297.72,685.14 298.24,684.38 299.05,683.79 300.06,683.43 301.18,683.34 302.30,683.52 303.31,683.95 304.12,684.59 304.64,685.39 304.82,686.26 304.60,690.87 304.42,691.73 303.91,692.50 303.10,693.09 302.09,693.46 300.96,693.55 299.84,693.37 298.82,692.93 298.02,692.28 297.51,691.48"/><polygon class="t" points="304.12,687.88 304.64,687.12 304.82,686.26 304.64,685.39 304.12,684.59 303.31,683.95 302.30,683.52 301.18,683.34 300.06,683.43 299.04,683.79 298.24,684.38 297.72,685.14 297.53,685.99 297.70,686.86 298.22,687.67 299.02,688.32 300.04,688.75 301.16,688.93 302.29,688.84 303.31,688.48"/></g>
<g class="hc c"><polygon class="f" points="307.86,696.93 308.24,689.27 308.42,688.40 308.93,687.63 309.74,687.04 310.76,686.68 311.89,686.58 313.03,686.76 314.06,687.20 314.88,687.85 315.41,688.66 315.61,689.54 315.18,697.20 315.02,698.07 314.51,698.85 313.70,699.46 312.69,699.83 311.55,699.92 310.42,699.74 309.39,699.29 308.57,698.63 308.05,697.82"/><polygon class="t" points="314.93,691.19 315.44,690.42 315.61,689.54 315.41,688.66 314.88,687.85 314.06,687.20 313.03,686.76 311.89,686.58 310.76,686.68 309.74,687.04 308.93,687.63 308.42,688.40 308.24,689.27 308.43,690.16 308.96,690.97 309.78,691.63 310.81,692.08 311.96,692.26 313.10,692.16 314.12,691.79"/></g>
<g class="hc c"><polygon class="f" points="318.56,703.35 319.15,693.14 319.32,692.26 319.83,691.48 320.64,690.87 321.66,690.51 322.80,690.41 323.95,690.59 325.00,691.03 325.84,691.70 326.39,692.52 326.60,693.42 325.94,703.63 325.79,704.52 325.28,705.31 324.48,705.92 323.46,706.30 322.32,706.40 321.17,706.21 320.13,705.76 319.30,705.08 318.75,704.25"/><polygon class="t" points="325.94,695.09 326.44,694.30 326.60,693.42 326.39,692.52 325.84,691.70 325.00,691.03 323.95,690.59 322.80,690.41 321.66,690.51 320.64,690.87 319.83,691.48 319.32,692.26 319.15,693.14 319.35,694.04 319.90,694.87 320.74,695.54 321.79,695.99 322.95,696.17 324.10,696.07 325.13,695.70"/></g>
<text class="cl" style="font-size:10.5px;letter-spacing:0.9px;stroke:#000;stroke-width:0.3px" transform="translate(162.04 621.58) skewX(-8.00) rotate(-90) scale(0.85 1)" x="0" y="0">MT</text>
<text class="cl" style="font-size:10.5px;letter-spacing:0.9px;stroke:#000;stroke-width:0.3px" transform="translate(170.34 626.65) skewX(-7.53) rotate(-90) scale(0.85 1)" x="0" y="0">IT</text>
<text class="cl" style="font-size:10.5px;letter-spacing:0.9px;stroke:#000;stroke-width:0.3px" transform="translate(178.77 631.79) skewX(-7.06) rotate(-90) scale(0.85 1)" x="0" y="0">VT</text>
<text class="cl" style="font-size:10.5px;letter-spacing:0.9px;stroke:#000;stroke-width:0.3px" transform="translate(187.32 637.01) skewX(-6.59) rotate(-90) scale(0.85 1)" x="0" y="0">P</text>
<text class="cl" style="font-size:10.5px;letter-spacing:0.9px;stroke:#000;stroke-width:0.3px" transform="translate(196.00 642.31) skewX(-6.12) rotate(-90) scale(0.85 1)" x="0" y="0">DC</text>
<text class="cl" style="font-size:10.5px;letter-spacing:0.9px;stroke:#000;stroke-width:0.3px" transform="translate(204.81 647.68) skewX(-5.65) rotate(-90) scale(0.85 1)" x="0" y="0">VC</text>
<text class="cl" style="font-size:10.5px;letter-spacing:0.9px;stroke:#000;stroke-width:0.3px" transform="translate(213.76 653.14) skewX(-5.18) rotate(-90) scale(0.85 1)" x="0" y="0">AI</text>
<text class="cl" style="font-size:10.5px;letter-spacing:0.9px;stroke:#000;stroke-width:0.3px" transform="translate(222.84 658.68) skewX(-4.71) rotate(-90) scale(0.85 1)" x="0" y="0">MI</text>
<text class="cl" style="font-size:10.5px;letter-spacing:0.9px;stroke:#000;stroke-width:0.3px" transform="translate(232.07 664.31) skewX(-4.24) rotate(-90) scale(0.85 1)" x="0" y="0">B45</text>
<text class="cl" style="font-size:10.5px;letter-spacing:0.9px;stroke:#000;stroke-width:0.3px" transform="translate(241.44 670.03) skewX(-3.76) rotate(-90) scale(0.85 1)" x="0" y="0">B47</text>
<text class="cl" style="font-size:10.5px;letter-spacing:0.9px;stroke:#000;stroke-width:0.3px" transform="translate(250.96 675.83) skewX(-3.29) rotate(-90) scale(0.85 1)" x="0" y="0">B10</text>
<text class="cl" style="font-size:10.5px;letter-spacing:0.9px;stroke:#000;stroke-width:0.3px" transform="translate(260.63 681.73) skewX(-2.82) rotate(-90) scale(0.85 1)" x="0" y="0">B11</text>
<text class="cl" style="font-size:10.5px;letter-spacing:0.9px;stroke:#000;stroke-width:0.3px" transform="translate(270.46 687.72) skewX(-2.35) rotate(-90) scale(0.85 1)" x="0" y="0">B6</text>
<text class="cl" style="font-size:10.5px;letter-spacing:0.9px;stroke:#000;stroke-width:0.3px" transform="translate(280.44 693.80) skewX(-1.88) rotate(-90) scale(0.85 1)" x="0" y="0">LPM</text>
<text class="cl" style="font-size:10.5px;letter-spacing:0.9px;stroke:#000;stroke-width:0.3px" transform="translate(290.59 699.98) skewX(-1.41) rotate(-90) scale(0.85 1)" x="0" y="0">S2</text>
<text class="cl" style="font-size:10.5px;letter-spacing:0.9px;stroke:#000;stroke-width:0.3px" transform="translate(300.91 706.27) skewX(-0.94) rotate(-90) scale(0.85 1)" x="0" y="0">M1S1</text>
<text class="cl" style="font-size:10.5px;letter-spacing:0.9px;stroke:#000;stroke-width:0.3px" transform="translate(311.39 712.66) skewX(-0.47) rotate(-90) scale(0.85 1)" x="0" y="0">S1M1</text>
<text class="cl" style="font-size:10.5px;letter-spacing:0.9px;stroke:#000;stroke-width:0.3px" transform="translate(322.05 719.15) skewX(-0.00) rotate(-90) scale(0.85 1)" x="0" y="0">PGC</text>
<text class="sl" style="font-size:10.5px" transform="matrix(0.86 0.52 -0.68 0.73 340.00 717.00)" x="0" y="0">HC</text>
<text class="sl" style="font-size:10.5px" transform="matrix(0.86 0.52 -0.68 0.73 346.80 708.50)" x="0" y="0">NP</text>
<text class="sl" style="font-size:10.5px" transform="matrix(0.86 0.52 -0.68 0.73 354.00 700.80)" x="0" y="0">CP</text>
<rect x="241.70" y="533.40" width="31.30" height="58.00" fill="#fff" stroke="#a0a0a0" stroke-width="0.8"/>
<rect x="244.70" y="539.95" width="6.5" height="7.5" fill="#fff" stroke="#000" stroke-width="1.1"/>
<text class="lg" transform="translate(254.70 547.30) scale(0.94 1)">HC</text>
<rect x="244.70" y="559.25" width="6.5" height="7.5" fill="url(#lpat)" stroke="#000" stroke-width="1.1"/>
<text class="lg" transform="translate(254.70 566.60) scale(0.94 1)">NP</text>
<rect x="244.70" y="578.25" width="6.5" height="7.5" fill="#000" stroke="#000" stroke-width="1.1"/>
<text class="lg" transform="translate(254.70 585.60) scale(0.94 1)">CP</text>
<text class="tt" transform="translate(188.6 469.4) scale(0.823 1)">HYPO-RESPONSIVE VOI</text>
<text style="font-size:11px;font-weight:bold" transform="translate(113.6 588.5) rotate(-90) scale(1.13 1)">(#VOI/N)*100</text>
<text style="font-size:11px;font-weight:bold" transform="matrix(0.866 0.5 -0.52 0.85 190.8 685)">VOI</text></svg></body></html>
